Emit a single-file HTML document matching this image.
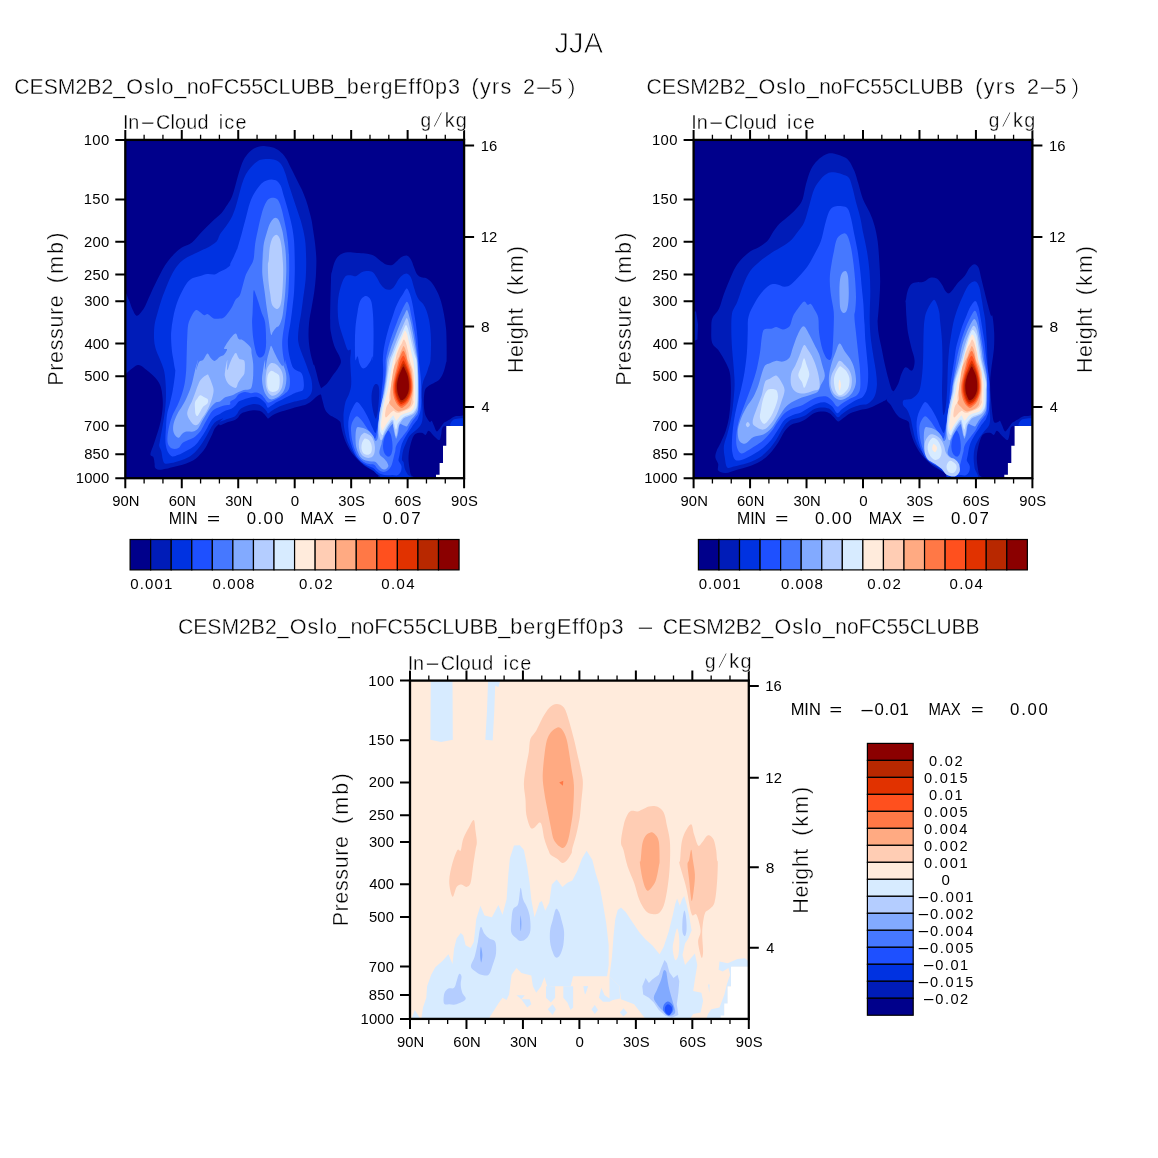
<!DOCTYPE html>
<html><head><meta charset="utf-8"><title>JJA</title>
<style>html,body{margin:0;padding:0;background:#fff}svg{display:block}</style></head>
<body>
<svg width="1158" height="1158" viewBox="0 0 1158 1158" font-family="'Liberation Sans', sans-serif" fill="#000">
<rect width="1158" height="1158" fill="#fff"/>
<text y="53.30" font-size="30.2" stroke="#fff" stroke-width="0.9"><tspan x="554.55" textLength="48.51" lengthAdjust="spacingAndGlyphs">JJA</tspan></text>
<text y="94.30" font-size="21.6" stroke="#fff" stroke-width="0.35"><tspan x="14.32" textLength="110.64" lengthAdjust="spacingAndGlyphs">CESM2B2_</tspan><tspan x="126.18 143.92 155.66 161.39 174.34">Oslo_</tspan><tspan x="186.87 198.77 210.68 223.76 239.25 251.16 263.06 278.55 290.46 305.95 320.25 334.54">noFC55CLUBB_</tspan><tspan x="346.71 359.56 372.41 380.45 393.30 408.55 415.39 422.23 435.08 447.94">bergEff0p3</tspan> <tspan x="471.46 479.90 491.94 500.38">(yrs</tspan> <tspan x="523.12" textLength="11.96" lengthAdjust="spacingAndGlyphs">2</tspan><tspan x="534.48" textLength="18.14" lengthAdjust="spacingAndGlyphs">-</tspan><tspan x="550.86" textLength="11.61" lengthAdjust="spacingAndGlyphs">5</tspan><tspan x="566.95" textLength="8.79" lengthAdjust="spacingAndGlyphs" stroke-width="0.8">)</tspan></text>
<text y="94.30" font-size="21.6" stroke="#fff" stroke-width="0.35"><tspan x="646.62" textLength="110.64" lengthAdjust="spacingAndGlyphs">CESM2B2_</tspan><tspan x="758.48 776.22 787.96 793.69 806.64">Oslo_</tspan><tspan x="819.21" textLength="144.19" lengthAdjust="spacingAndGlyphs">noFC55CLUBB</tspan> <tspan x="975.26 983.70 995.74 1004.18">(yrs</tspan> <tspan x="1026.92" textLength="11.96" lengthAdjust="spacingAndGlyphs">2</tspan><tspan x="1038.28" textLength="18.14" lengthAdjust="spacingAndGlyphs">-</tspan><tspan x="1054.66" textLength="11.61" lengthAdjust="spacingAndGlyphs">5</tspan><tspan x="1070.75" textLength="8.79" lengthAdjust="spacingAndGlyphs" stroke-width="0.8">)</tspan></text>
<text y="633.90" font-size="21.6" stroke="#fff" stroke-width="0.35"><tspan x="177.92" textLength="110.64" lengthAdjust="spacingAndGlyphs">CESM2B2_</tspan><tspan x="289.78 307.52 319.26 324.99 337.94">Oslo_</tspan><tspan x="350.47 362.37 374.28 387.36 402.85 414.76 426.66 442.15 454.06 469.55 483.85 498.14">noFC55CLUBB_</tspan><tspan x="510.31 523.16 536.01 544.05 556.90 572.15 578.99 585.83 598.68 611.54">bergEff0p3</tspan> <tspan x="635.82" textLength="19.37" lengthAdjust="spacingAndGlyphs">-</tspan> <tspan x="662.72" textLength="110.64" lengthAdjust="spacingAndGlyphs">CESM2B2_</tspan><tspan x="774.58 792.32 804.06 809.79 822.74">Oslo_</tspan><tspan x="835.31" textLength="144.19" lengthAdjust="spacingAndGlyphs">noFC55CLUBB</tspan></text>
<g transform="translate(125.3,139.9)">
<clipPath id="cp1"><rect x="0" y="0" width="338.8" height="338.3"/></clipPath>
<g clip-path="url(#cp1)" shape-rendering="geometricPrecision">
<rect x="0" y="0" width="338.8" height="338.3" fill="#00008B"/>
<path d="M-0.8,158.8C-0.1,146.5 2.1,158.1 3.4,159.8C4.6,161.6 5.7,166.5 7.0,169.2C8.3,171.8 9.7,175.4 11.1,175.9C12.6,176.4 14.3,173.9 15.8,172.3C17.3,170.6 18.6,168.6 19.9,166.1C21.3,163.5 22.5,160.2 24.1,156.7C25.6,153.3 27.5,149.0 29.3,145.3C31.0,141.7 32.7,138.3 34.4,135.0C36.2,131.7 37.7,128.6 39.6,125.6C41.5,122.7 43.6,119.9 45.8,117.4C48.1,114.8 51.0,111.9 53.1,110.1C55.2,108.3 56.3,107.9 58.5,106.6C60.8,105.3 63.7,105.0 66.7,102.5C69.7,100.0 73.3,95.2 76.6,91.8C79.9,88.4 83.1,85.1 86.4,82.0C89.7,78.8 93.9,75.6 96.3,73.0C98.7,70.4 99.3,68.9 100.9,66.4C102.6,64.0 104.7,61.1 106.1,58.1C107.5,55.2 108.2,52.3 109.2,48.8C110.2,45.4 111.3,41.0 112.3,37.4C113.4,33.8 114.2,30.3 115.4,27.0C116.6,23.8 117.8,20.5 119.6,17.7C121.3,15.0 123.5,12.3 125.8,10.5C128.0,8.6 130.6,7.5 133.0,6.8C135.5,6.1 137.7,6.1 140.3,6.3C142.9,6.5 146.0,6.8 148.6,7.9C151.2,8.9 153.8,10.7 155.8,12.5C157.9,14.3 159.3,16.0 161.0,18.8C162.7,21.5 164.5,25.7 166.2,29.1C167.9,32.6 169.7,36.0 171.4,39.5C173.1,42.9 175.0,46.4 176.6,49.8C178.1,53.3 179.5,56.7 180.7,60.2C181.9,63.7 182.9,67.1 183.8,70.6C184.8,74.0 185.7,77.5 186.4,80.9C187.1,84.4 187.4,87.8 188.0,91.3C188.5,94.7 189.1,98.2 189.5,101.7C190.0,105.1 190.3,108.9 190.6,112.0C190.8,115.2 191.1,116.5 191.1,120.5C191.1,124.5 190.9,130.8 190.6,136.0C190.2,141.2 189.7,146.4 189.0,151.6C188.3,156.7 187.3,161.9 186.4,167.1C185.5,172.3 184.3,177.5 183.8,182.6C183.3,187.8 183.1,193.3 183.3,198.2C183.5,203.0 184.1,207.3 184.9,211.7C185.6,216.0 187.3,221.8 188.0,224.1C188.7,226.4 188.5,223.9 189.0,225.3C189.5,226.7 190.4,229.9 191.1,232.5C191.8,235.1 192.4,238.2 193.1,240.8C193.9,243.4 194.9,246.4 195.7,248.1C196.6,249.8 198.2,250.2 198.3,251.2C198.5,252.2 197.5,253.7 196.8,254.3C196.1,254.9 195.1,254.4 194.2,254.8C193.2,255.2 192.3,255.9 191.1,256.9C189.9,257.8 188.5,259.3 186.9,260.5C185.4,261.7 183.6,263.2 181.7,264.1C179.8,265.1 177.9,265.5 175.5,266.2C173.1,266.9 170.0,267.5 167.2,268.3C164.5,269.1 161.7,270.0 158.9,270.9C156.2,271.7 152.9,272.5 150.7,273.5C148.4,274.4 146.8,275.7 145.5,276.6C144.2,277.4 143.6,278.6 142.9,278.6C142.2,278.7 142.1,278.0 141.3,277.1C140.6,276.2 139.4,274.5 138.2,273.5C137.0,272.4 135.8,271.4 134.1,270.9C132.4,270.4 130.1,270.2 127.9,270.4C125.6,270.5 122.7,271.3 120.6,271.9C118.5,272.5 116.8,272.9 115.4,274.0C114.0,275.0 113.5,277.0 112.3,278.1C111.1,279.3 110.1,279.9 108.2,280.7C106.3,281.5 103.2,282.0 100.9,282.8C98.7,283.6 95.9,285.1 94.7,285.4C93.5,285.6 94.4,283.8 93.5,284.3C92.6,284.9 90.5,286.8 89.4,288.5C88.2,290.2 87.8,292.5 86.8,294.7C85.7,297.0 84.3,299.7 83.1,302.0C82.0,304.2 81.2,306.3 80.0,308.2C78.8,310.1 77.4,311.6 75.9,313.4C74.3,315.1 72.6,317.1 70.7,318.5C68.8,320.0 66.7,321.1 64.5,322.2C62.2,323.2 59.8,324.0 57.2,324.8C54.6,325.5 51.7,326.1 48.9,326.8C46.2,327.5 43.2,328.4 40.7,328.9C38.1,329.4 35.2,330.1 33.4,329.9C31.6,329.8 30.5,328.9 29.8,327.9C29.1,326.8 29.5,325.5 29.3,323.7C29.0,322.0 28.9,319.1 28.2,317.5C27.5,316.0 25.1,316.5 25.1,314.4C25.1,312.3 27.2,308.2 28.2,305.1C29.3,302.0 30.3,299.0 31.3,295.7C32.4,292.5 33.6,288.8 34.4,285.4C35.3,281.9 36.0,278.5 36.5,275.0C37.0,271.6 37.5,267.9 37.5,264.7C37.6,261.4 37.4,258.3 37.0,255.3C36.7,252.4 36.3,249.5 35.5,247.0C34.7,244.6 33.8,242.8 32.4,240.8C31.0,238.8 29.1,236.9 27.2,235.1C25.3,233.3 22.9,231.5 21.0,229.9C19.1,228.4 17.3,226.6 15.8,225.8C14.2,225.0 13.2,224.8 11.6,225.3C10.1,225.8 8.2,227.6 6.5,228.9C4.7,230.2 2.5,232.3 1.3,233.1C0.1,233.8 -0.4,245.9 -0.8,233.6C-1.1,221.2 -1.5,171.1 -0.8,158.8Z" fill="#001CB8"/>
<path d="M38.6,230.1C37.6,226.4 35.8,222.5 34.4,218.9C33.1,215.3 31.2,212.0 30.3,208.5C29.3,205.1 28.9,202.2 28.7,198.2C28.6,194.2 28.7,189.0 29.3,184.7C29.9,180.4 31.2,176.6 32.4,172.3C33.6,168.0 35.0,163.3 36.5,158.8C38.1,154.3 40.0,149.5 41.7,145.3C43.4,141.2 45.0,137.4 46.9,133.9C48.8,130.5 50.8,127.2 53.1,124.6C55.3,122.0 57.8,120.1 60.3,118.4C62.9,116.7 65.9,115.6 68.6,114.2C71.4,112.9 74.5,111.2 76.9,110.1C79.3,109.0 80.7,108.8 83.1,107.4C85.5,106.0 89.4,103.8 91.3,101.7C93.3,99.5 93.1,97.0 94.7,94.4C96.3,91.8 99.0,88.9 100.9,86.1C102.8,83.3 104.5,80.9 106.1,77.8C107.7,74.7 109.0,71.1 110.2,67.5C111.5,63.8 112.3,59.9 113.4,56.1C114.4,52.3 115.3,48.3 116.5,44.7C117.7,41.0 118.9,37.4 120.6,34.3C122.3,31.2 124.8,28.3 126.8,26.0C128.9,23.8 131.1,21.9 133.0,20.8C134.9,19.7 136.0,19.5 138.2,19.3C140.5,19.0 144.1,18.9 146.5,19.3C148.9,19.6 151.0,20.2 152.7,21.3C154.5,22.5 155.7,24.0 156.9,26.0C158.1,28.0 158.9,30.3 160.0,33.3C161.0,36.2 161.9,39.8 163.1,43.6C164.3,47.4 165.9,51.9 167.2,56.1C168.6,60.2 170.0,64.3 171.4,68.5C172.8,72.6 174.3,76.8 175.5,80.9C176.7,85.1 177.9,89.6 178.6,93.4C179.4,97.2 179.8,100.3 180.2,103.7C180.5,107.2 180.6,110.4 180.7,114.1C180.8,117.7 181.0,121.1 180.9,125.6C180.8,130.2 180.7,136.0 180.2,141.2C179.7,146.4 178.8,151.6 178.1,156.7C177.4,161.9 176.8,167.1 176.0,172.3C175.3,177.5 174.0,183.0 173.5,187.8C172.9,192.7 172.4,197.0 172.9,201.3C173.5,205.6 175.3,209.9 176.6,213.7C177.9,217.5 179.7,221.4 180.7,224.1C181.7,226.8 181.9,227.6 182.8,230.0C183.6,232.5 185.2,235.9 185.9,238.8C186.6,241.6 186.9,244.6 186.9,247.0C186.9,249.5 186.8,251.4 185.9,253.3C185.0,255.2 183.3,257.3 181.7,258.4C180.2,259.6 178.6,259.5 176.6,260.0C174.5,260.5 171.9,260.9 169.3,261.6C166.7,262.2 163.8,263.2 161.0,264.1C158.3,265.1 155.1,266.1 152.7,267.3C150.3,268.4 148.2,269.8 146.5,270.9C144.9,271.9 143.8,273.4 142.9,273.5C142.0,273.6 142.1,272.3 141.3,271.4C140.6,270.4 139.6,268.9 138.2,267.8C136.8,266.6 134.8,265.3 133.0,264.7C131.3,264.1 130.1,263.8 127.9,264.1C125.6,264.5 121.8,265.8 119.6,266.7C117.3,267.7 115.7,268.6 114.4,269.8C113.1,271.0 112.8,272.8 111.8,274.0C110.8,275.2 109.8,276.2 108.2,277.1C106.5,278.0 104.2,278.4 102.0,279.2C99.7,279.9 95.4,281.8 94.7,281.8C94.0,281.7 98.2,278.7 97.7,278.6C97.1,278.6 93.2,280.1 91.4,281.2C89.7,282.4 88.7,283.5 87.3,285.4C85.9,287.3 84.5,290.2 83.1,292.6C81.8,295.1 80.4,297.6 79.0,299.9C77.6,302.1 76.4,304.0 74.9,306.1C73.3,308.2 71.6,310.5 69.7,312.3C67.8,314.1 65.9,315.6 63.5,317.0C61.0,318.4 58.1,319.6 55.2,320.6C52.2,321.7 48.4,322.7 45.8,323.2C43.2,323.7 41.0,324.3 39.6,323.7C38.2,323.1 38.2,321.7 37.5,319.6C36.9,317.5 36.6,313.5 36.0,311.3C35.4,309.0 34.2,307.7 33.9,306.1C33.7,304.6 34.0,304.6 34.4,302.0C34.9,299.4 35.8,294.5 36.5,290.6C37.2,286.6 38.0,282.1 38.6,278.1C39.2,274.2 39.8,270.7 40.1,266.7C40.5,262.8 40.7,258.6 40.7,254.3C40.7,250.0 40.5,244.9 40.1,240.8C39.8,236.8 39.5,233.8 38.6,230.1Z" fill="#0032E1"/>
<path d="M50.0,230.1C49.6,229.9 48.5,222.5 47.9,218.9C47.3,215.3 46.7,212.9 46.4,208.5C46.0,204.2 45.6,198.2 45.8,193.0C46.1,187.8 46.9,182.6 47.9,177.5C48.9,172.3 50.5,166.4 52.1,161.9C53.6,157.4 55.5,153.8 57.2,150.5C59.0,147.2 60.7,144.3 62.4,142.2C64.1,140.2 65.5,139.1 67.6,138.1C69.7,137.0 72.4,136.7 74.9,136.0C77.3,135.4 79.7,134.4 82.1,134.1C84.5,133.9 87.3,134.8 89.4,134.5C91.4,134.1 92.6,132.8 94.5,131.9C96.4,130.9 99.1,129.8 100.8,128.8C102.5,127.7 104.0,126.5 104.7,125.6C105.4,124.8 104.5,125.0 105.1,123.6C105.6,122.2 107.1,119.6 108.2,117.4C109.2,115.1 110.6,111.7 111.3,110.1C112.0,108.5 111.5,110.7 112.3,107.9C113.2,105.1 115.1,98.4 116.5,93.4C117.8,88.4 119.2,83.0 120.6,77.8C122.0,72.6 123.2,66.6 124.8,62.3C126.3,58.0 128.0,55.0 129.9,51.9C131.8,48.8 134.3,45.5 136.2,43.6C138.1,41.7 139.6,41.2 141.3,40.5C143.1,39.8 144.8,39.4 146.5,39.5C148.2,39.6 150.2,40.0 151.7,41.0C153.2,42.1 154.3,43.5 155.3,45.7C156.4,47.9 157.0,50.9 157.9,54.0C158.9,57.1 160.0,60.7 161.0,64.3C162.1,68.0 163.1,71.6 164.1,75.7C165.2,79.9 166.5,84.9 167.2,89.2C168.0,93.5 168.4,97.5 168.8,101.7C169.1,105.8 169.2,109.2 169.3,114.1C169.4,119.0 169.6,124.6 169.5,130.8C169.4,137.1 169.2,145.5 168.8,151.6C168.4,157.6 167.8,161.9 167.2,167.1C166.6,172.3 165.9,178.0 165.2,182.6C164.5,187.3 163.5,191.6 163.1,195.1C162.7,198.5 162.5,200.3 162.6,203.4C162.7,206.5 163.0,210.3 163.6,213.7C164.2,217.2 165.4,221.6 166.2,224.1C167.0,226.5 167.4,227.3 168.3,228.4C169.1,229.5 170.2,229.8 171.4,230.5C172.6,231.2 174.5,231.5 175.5,232.5C176.6,233.6 177.1,234.6 177.6,236.7C178.1,238.8 178.6,242.7 178.6,245.0C178.6,247.2 178.3,249.0 177.6,250.2C176.9,251.3 175.9,251.2 174.5,251.7C173.1,252.2 171.2,252.5 169.3,253.3C167.4,254.0 165.2,255.3 163.1,256.4C161.0,257.4 158.9,258.4 156.9,259.5C154.8,260.5 152.6,261.5 150.7,262.6C148.8,263.7 146.9,265.4 145.5,266.2C144.1,267.1 143.2,268.2 142.4,267.8C141.5,267.3 141.3,265.0 140.3,263.6C139.3,262.2 137.7,260.6 136.2,259.5C134.6,258.4 132.7,257.2 131.0,256.9C129.2,256.5 127.9,257.0 125.8,257.4C123.7,257.8 120.6,258.8 118.5,259.5C116.5,260.2 114.7,260.5 113.4,261.6C112.0,262.6 111.5,264.5 110.2,265.7C109.0,266.9 107.8,267.9 106.1,268.8C104.4,269.7 101.8,270.0 99.9,270.9C98.0,271.7 96.3,273.1 94.7,274.0C93.1,274.8 91.8,275.0 90.4,276.1C89.0,277.1 87.6,278.3 86.3,280.2C84.9,282.1 83.5,285.0 82.1,287.5C80.7,289.9 79.5,292.3 78.0,294.7C76.4,297.1 74.5,299.9 72.8,302.0C71.1,304.0 69.7,305.6 67.6,307.1C65.5,308.7 62.8,310.0 60.3,311.3C57.9,312.6 55.3,314.1 53.1,314.9C50.8,315.8 48.6,316.9 46.9,316.5C45.1,316.0 43.8,314.1 42.7,312.3C41.7,310.6 41.1,308.4 40.7,306.1C40.2,303.9 40.1,302.0 40.1,298.9C40.1,295.7 40.4,291.4 40.7,287.5C40.9,283.5 41.1,278.8 41.7,275.0C42.3,271.2 43.4,268.3 44.3,264.7C45.1,261.0 46.1,257.2 46.9,253.3C47.7,249.3 48.4,244.6 48.9,240.8C49.5,237.0 49.8,233.9 50.0,230.5C50.2,227.0 50.0,220.2 50.0,220.1C50.0,220.0 50.3,230.3 50.0,230.1Z" fill="#1E50FF"/>
<path d="M128.4,110.1C128.3,110.2 128.6,117.4 127.9,120.5C127.1,123.6 125.0,126.2 123.7,128.8C122.4,131.3 121.1,133.2 120.1,136.0C119.1,138.8 118.4,142.1 117.5,145.3C116.5,148.6 115.6,153.3 114.4,155.7C113.2,158.1 111.6,157.8 110.2,159.8C108.9,161.9 107.7,165.5 106.1,168.1C104.5,170.7 102.3,173.7 100.9,175.4C99.5,177.0 98.8,177.5 97.8,178.0C96.8,178.5 96.3,178.4 94.7,178.5C93.1,178.6 90.3,179.2 88.3,178.5C86.3,177.8 84.2,174.9 82.6,174.3C81.1,173.8 80.3,175.7 79.0,175.4C77.7,175.0 76.2,173.1 74.9,172.3C73.5,171.4 72.1,169.7 70.7,170.2C69.3,170.7 67.9,173.0 66.6,175.4C65.3,177.8 63.7,180.9 62.9,184.7C62.2,188.5 62.2,193.3 61.9,198.2C61.6,203.0 61.6,208.4 61.4,213.7C61.2,219.0 61.2,225.1 60.9,230.1C60.5,235.1 60.1,239.7 59.3,243.9C58.5,248.1 57.4,251.7 56.2,255.3C55.0,259.0 53.6,262.2 52.1,265.7C50.5,269.2 48.3,272.6 46.9,276.1C45.5,279.5 44.5,283.0 43.8,286.4C43.0,289.9 42.4,293.8 42.2,296.8C42.0,299.7 42.0,302.1 42.7,304.0C43.5,306.0 45.1,308.0 46.9,308.7C48.6,309.4 51.4,309.1 53.1,308.2C54.8,307.2 55.5,304.4 57.2,303.0C59.0,301.6 61.4,300.9 63.5,299.9C65.5,298.9 67.8,298.2 69.7,296.8C71.6,295.4 73.3,293.7 74.9,291.6C76.4,289.5 77.6,286.8 79.0,284.3C80.4,281.9 81.8,279.3 83.1,277.1C84.5,274.8 85.7,272.4 87.3,270.9C88.8,269.3 90.6,268.6 92.5,267.8C94.4,266.9 96.7,266.2 98.7,265.7C100.7,265.2 103.6,265.4 104.7,264.7C105.8,264.0 104.1,262.6 105.1,261.6C106.0,260.5 108.9,259.7 110.2,258.4C111.6,257.2 111.8,255.3 113.4,254.3C114.9,253.3 117.5,252.4 119.6,252.2C121.6,252.1 123.9,253.2 125.8,253.3C127.7,253.3 129.2,252.5 131.0,252.7C132.7,253.0 134.8,253.9 136.2,254.8C137.5,255.8 138.2,257.1 139.3,258.4C140.3,259.7 141.2,262.1 142.4,262.6C143.6,263.1 144.8,262.2 146.5,261.6C148.2,260.9 150.7,259.7 152.7,258.4C154.8,257.2 157.2,255.7 158.9,254.3C160.7,252.9 162.1,251.9 163.1,250.2C164.0,248.4 164.5,246.4 164.6,243.9C164.8,241.5 164.6,238.2 164.1,235.6C163.7,233.1 162.7,231.0 162.1,228.4C161.4,225.8 160.3,220.8 160.0,220.1C159.6,219.4 160.3,224.8 160.0,224.1C159.6,223.4 158.4,218.9 157.9,215.8C157.4,212.7 157.0,208.7 156.9,205.4C156.8,202.2 157.0,199.9 157.4,196.1C157.8,192.3 158.8,187.5 159.5,182.6C160.2,177.8 160.9,172.3 161.5,167.1C162.1,161.9 162.7,157.6 163.1,151.6C163.5,145.5 163.8,137.7 163.9,130.8C164.0,123.9 163.7,112.9 163.6,110.1C163.6,107.3 163.8,115.5 163.6,114.1C163.4,112.7 163.0,105.6 162.6,101.7C162.1,97.7 161.7,94.2 161.0,90.3C160.3,86.3 159.3,81.6 158.4,77.8C157.6,74.0 156.8,70.4 155.8,67.5C154.9,64.5 153.9,61.8 152.7,60.2C151.5,58.6 150.1,58.1 148.6,57.9C147.0,57.8 145.0,57.9 143.4,59.2C141.9,60.4 140.5,62.8 139.3,65.4C138.1,68.0 137.2,70.9 136.2,74.7C135.1,78.5 134.1,83.3 133.0,88.2C132.0,93.0 130.7,98.4 129.9,103.7C129.2,109.0 128.6,119.0 128.4,120.1C128.1,121.2 128.5,110.0 128.4,110.1Z" fill="#4678FF"/>
<path d="M128.4,150.5C128.1,151.4 128.0,153.1 127.9,156.7C127.7,160.4 127.5,168.0 127.3,172.3C127.2,176.6 126.7,178.3 126.8,182.6C126.9,187.0 127.3,193.3 127.9,198.2C128.5,203.0 129.6,208.5 130.5,211.7C131.3,214.8 132.1,215.9 133.0,216.8C134.0,217.8 135.1,217.9 136.2,217.4C137.2,216.8 138.5,216.1 139.3,213.7C140.0,211.4 140.7,208.5 140.8,203.4C140.9,198.2 140.6,187.8 139.8,182.6C139.0,177.5 137.3,175.7 136.2,172.3C135.0,168.8 134.2,165.4 133.0,161.9C131.9,158.5 130.2,153.5 129.4,151.6C128.6,149.7 128.6,149.7 128.4,150.5Z" fill="#1E50FF"/>
<path d="M137.7,120.1C137.8,119.4 137.6,110.3 138.2,105.8C138.8,101.3 140.3,97.0 141.3,93.4C142.4,89.7 143.2,86.5 144.4,84.0C145.6,81.5 147.4,79.3 148.6,78.3C149.8,77.4 150.7,77.7 151.7,78.3C152.6,78.9 153.4,80.0 154.3,82.0C155.1,84.0 156.1,87.0 156.9,90.3C157.7,93.5 158.3,97.7 158.9,101.7C159.6,105.6 160.2,109.2 160.5,114.1C160.8,119.0 161.1,124.6 161.0,130.8C160.9,137.1 160.4,145.5 160.0,151.6C159.6,157.6 158.9,162.8 158.4,167.1C157.9,171.4 157.7,174.3 156.9,177.5C156.1,180.6 154.8,184.0 153.8,185.7C152.7,187.5 151.7,186.8 150.7,187.8C149.6,188.9 148.4,190.8 147.5,192.0C146.7,193.1 146.4,196.5 145.7,194.6C145.0,192.7 144.1,185.1 143.4,180.6C142.7,176.0 142.0,171.9 141.3,167.1C140.6,162.3 140.0,156.7 139.3,151.6C138.6,146.4 137.6,140.3 137.2,136.0C136.8,131.7 136.9,130.0 137.0,125.6C137.1,121.3 137.6,111.0 137.7,110.1C137.8,109.2 137.6,120.8 137.7,120.1Z" fill="#82AAFF"/>
<path d="M70.7,230.1C70.9,230.4 72.6,223.7 73.8,222.0C75.0,220.3 76.6,221.3 78.0,219.9C79.3,218.6 80.9,214.1 82.1,213.7C83.3,213.4 84.0,216.7 85.2,217.9C86.4,219.1 87.8,221.2 89.4,221.0C90.9,220.8 93.0,217.9 94.5,216.8C96.1,215.8 97.5,216.0 98.7,214.8C99.9,213.6 101.8,210.6 101.8,209.6C101.8,208.5 98.6,209.9 98.8,208.5C99.0,207.2 101.6,203.4 103.0,201.3C104.4,199.2 105.8,197.4 107.1,196.1C108.4,194.9 109.7,193.3 110.8,193.8C111.8,194.3 112.2,198.1 113.4,199.2C114.5,200.3 115.5,198.9 117.5,200.3C119.5,201.6 123.8,205.3 125.3,207.5C126.7,209.8 125.9,211.0 126.3,213.7C126.7,216.5 127.6,220.4 127.9,224.1C128.1,227.7 128.0,232.2 127.9,235.6C127.7,239.1 127.3,242.7 126.8,245.0C126.3,247.2 126.1,248.3 124.8,249.1C123.4,250.0 120.4,249.6 118.5,250.2C116.6,250.7 115.3,251.4 113.4,252.2C111.5,253.1 109.4,254.5 107.1,255.3C104.9,256.2 102.0,256.4 99.9,257.4C97.8,258.4 96.3,260.7 94.7,261.6C93.1,262.4 92.0,261.6 90.4,262.6C88.8,263.6 86.8,265.9 85.2,267.8C83.7,269.7 82.5,271.7 81.1,274.0C79.7,276.2 78.3,278.8 76.9,281.2C75.5,283.7 74.3,286.8 72.8,288.5C71.2,290.2 69.5,291.1 67.6,291.6C65.7,292.1 63.1,291.3 61.4,291.6C59.7,291.9 58.5,292.6 57.2,293.7C55.9,294.7 54.8,297.5 53.6,297.8C52.4,298.2 50.9,297.0 50.0,295.7C49.0,294.5 48.2,292.6 47.9,290.6C47.7,288.5 47.7,286.1 48.4,283.3C49.1,280.5 50.6,276.9 52.1,274.0C53.5,271.0 55.5,268.8 57.2,265.7C59.0,262.6 60.9,259.0 62.4,255.3C64.0,251.7 65.4,248.1 66.6,243.9C67.8,239.8 68.6,234.4 69.7,230.5C70.7,226.5 72.6,220.2 72.8,220.1C73.0,220.0 70.5,229.8 70.7,230.1Z" fill="#82AAFF"/>
<path d="M139.8,230.1C140.1,229.9 141.1,222.3 141.9,218.9C142.6,215.5 143.8,211.7 144.4,209.6C145.1,207.4 145.3,205.6 146.0,206.0C146.7,206.3 147.5,209.3 148.6,211.7C149.7,214.0 151.3,217.5 152.7,219.9C154.1,222.4 156.0,225.3 156.9,226.2C157.7,227.1 157.3,224.2 157.9,225.3C158.5,226.3 160.0,229.9 160.5,232.5C161.0,235.1 161.3,237.9 161.0,240.8C160.8,243.8 160.0,247.7 158.9,250.2C157.9,252.6 156.5,253.9 154.8,255.3C153.1,256.8 150.3,258.4 148.6,259.0C146.9,259.6 145.8,259.7 144.4,259.0C143.1,258.2 141.4,256.3 140.3,254.3C139.2,252.3 138.3,249.6 137.7,247.0C137.1,244.5 136.7,241.5 136.7,238.8C136.7,236.0 137.2,233.6 137.7,230.5C138.2,227.4 139.4,220.2 139.8,220.1C140.1,220.0 139.4,230.3 139.8,230.1Z" fill="#82AAFF"/>
<path d="M143.4,120.1C143.7,117.1 143.9,111.3 144.4,107.9C145.0,104.5 145.6,101.7 146.5,99.6C147.4,97.5 148.7,96.1 149.6,95.4C150.6,94.7 151.3,94.7 152.2,95.4C153.1,96.1 154.1,97.5 154.8,99.6C155.5,101.7 155.9,104.5 156.4,107.9C156.8,111.3 157.1,116.3 157.4,120.1C157.7,123.9 157.9,126.4 157.9,130.8C157.9,135.2 157.7,141.7 157.4,146.4C157.1,151.0 156.8,155.5 156.4,158.8C155.9,162.1 155.5,164.4 154.8,166.1C154.1,167.8 153.1,168.6 152.2,169.0C151.3,169.3 150.6,169.0 149.6,168.1C148.7,167.3 147.3,166.2 146.5,164.0C145.7,161.7 145.5,158.5 145.0,154.7C144.4,150.9 143.6,146.0 143.2,141.2C142.8,136.4 142.5,129.2 142.6,125.6C142.6,122.1 143.1,123.1 143.4,120.1Z" fill="#B4CDFF"/>
<path d="M82.1,234.6C80.8,235.0 77.4,237.5 75.9,239.3C74.3,241.0 73.8,242.6 72.8,245.0C71.7,247.3 70.7,250.5 69.7,253.3C68.6,256.0 67.6,259.1 66.6,261.6C65.5,264.0 64.2,265.7 63.5,267.8C62.7,269.8 61.7,271.9 61.9,274.0C62.1,276.1 63.4,278.4 64.5,280.2C65.6,282.0 67.3,284.2 68.6,284.9C70.0,285.6 71.4,285.5 72.8,284.3C74.2,283.2 75.5,280.2 76.9,278.1C78.3,276.1 79.9,274.0 81.1,271.9C82.3,269.8 83.2,267.9 84.2,265.7C85.1,263.5 86.1,261.0 86.8,258.4C87.5,255.9 88.4,252.7 88.3,250.2C88.2,247.6 87.0,245.1 86.3,242.9C85.5,240.7 84.4,238.1 83.7,236.7C83.0,235.3 83.4,234.2 82.1,234.6Z" fill="#B4CDFF"/>
<path d="M102.0,230.1C102.5,230.4 104.0,224.4 105.1,222.0C106.1,219.6 107.2,217.3 108.2,215.8C109.1,214.3 109.8,212.7 110.8,213.2C111.7,213.7 112.5,217.6 113.9,218.9C115.3,220.2 118.1,219.1 119.1,221.0C120.0,222.8 119.5,229.4 119.6,230.1C119.7,230.8 119.7,224.7 119.6,225.3C119.5,225.9 119.7,231.3 119.1,233.6C118.4,235.8 116.5,237.2 115.4,238.8C114.4,240.3 113.7,241.3 112.8,242.9C112.0,244.5 111.9,247.9 110.2,248.1C108.6,248.3 104.8,245.8 103.0,243.9C101.2,242.0 100.2,238.9 99.7,236.7C99.2,234.4 99.5,233.2 99.9,230.5C100.3,227.7 101.6,220.2 102.0,220.1C102.3,220.0 101.4,229.8 102.0,230.1Z" fill="#B4CDFF"/>
<path d="M141.3,230.5C140.9,232.5 140.4,236.0 140.3,238.8C140.2,241.5 140.3,244.6 140.8,247.0C141.3,249.5 142.3,251.8 143.4,253.3C144.5,254.7 146.0,255.9 147.5,255.9C149.1,255.9 151.3,254.6 152.7,253.3C154.2,252.0 155.5,250.3 156.4,248.1C157.2,245.8 157.8,242.4 157.9,239.8C158.0,237.2 157.6,234.6 156.9,232.5C156.2,230.5 155.0,228.8 153.8,227.4C152.6,225.9 150.9,224.4 149.6,223.7C148.3,223.0 147.1,222.8 146.0,223.2C144.9,223.6 143.7,225.1 142.9,226.3C142.1,227.5 141.8,228.4 141.3,230.5Z" fill="#B4CDFF"/>
<path d="M74.9,255.3C73.6,255.6 72.6,257.8 71.7,259.0C70.9,260.2 70.0,260.9 69.7,262.6C69.3,264.2 69.6,266.9 69.7,268.8C69.8,270.7 69.8,272.8 70.2,274.0C70.6,275.2 71.5,276.4 72.3,276.1C73.0,275.7 73.9,273.5 74.9,271.9C75.8,270.4 76.8,268.1 78.0,266.7C79.2,265.4 81.3,264.8 82.1,263.6C82.9,262.4 83.1,260.5 82.6,259.5C82.1,258.4 80.3,258.1 79.0,257.4C77.7,256.7 76.1,255.1 74.9,255.3Z" fill="#D7EBFF"/>
<path d="M145.5,231.0C144.3,231.5 143.0,233.5 142.4,235.6C141.8,237.8 141.7,241.5 141.9,243.9C142.0,246.4 142.5,248.8 143.4,250.2C144.4,251.5 146.0,252.2 147.5,252.2C149.1,252.2 151.6,251.5 152.7,250.2C153.9,248.8 154.1,246.4 154.3,243.9C154.5,241.5 154.5,237.5 153.8,235.6C153.0,233.7 151.0,233.3 149.6,232.5C148.2,231.8 146.7,230.5 145.5,231.0Z" fill="#D7EBFF"/>
<path d="M205.7,139.5C206.0,131.3 206.1,134.3 206.8,131.2C207.5,128.1 208.5,123.6 209.9,120.8C211.3,118.1 213.0,116.0 215.1,114.6C217.1,113.2 219.6,112.6 222.3,112.3C225.1,112.1 228.7,112.8 231.6,113.1C234.6,113.3 237.2,113.1 239.9,113.6C242.7,114.0 245.8,114.5 248.2,115.6C250.6,116.8 252.4,118.8 254.4,120.3C256.5,121.8 258.6,123.7 260.7,124.5C262.7,125.2 265.0,125.6 266.9,125.0C268.8,124.4 270.5,122.1 272.1,120.8C273.6,119.5 274.6,118.1 276.2,117.2C277.8,116.3 279.8,115.3 281.4,115.6C282.9,116.0 284.3,117.4 285.5,119.3C286.7,121.2 287.6,124.5 288.6,127.0C289.7,129.5 290.5,132.6 291.7,134.3C293.0,136.0 294.3,136.7 295.9,137.4C297.4,138.1 299.3,137.6 301.1,138.4C302.8,139.3 304.5,140.5 306.3,142.6C308.0,144.7 309.9,147.8 311.4,150.9C313.0,154.0 314.4,157.3 315.6,161.2C316.8,165.2 317.8,170.0 318.7,174.7C319.6,179.4 320.3,184.4 320.8,189.2C321.2,194.1 321.2,198.6 321.3,203.7C321.4,208.9 321.4,217.0 321.3,220.1C321.2,223.2 321.2,220.7 320.8,222.5C320.3,224.3 319.7,228.1 318.7,230.8C317.7,233.6 316.3,237.0 314.5,239.1C312.8,241.2 310.1,242.2 308.3,243.3C306.6,244.3 305.5,244.5 304.2,245.3C302.9,246.2 301.4,247.1 300.6,248.4C299.7,249.8 299.3,251.4 299.0,253.6C298.7,255.9 298.5,259.2 298.5,261.9C298.5,264.7 298.7,267.8 299.0,270.2C299.3,272.6 299.6,274.4 300.6,276.4C301.5,278.4 303.4,281.3 304.4,282.1C305.4,282.8 305.8,280.4 306.5,281.0C307.2,281.6 307.8,284.0 308.6,285.7C309.4,287.4 310.2,290.9 311.2,291.4C312.1,291.9 313.3,289.8 314.3,288.8C315.2,287.8 316.1,286.2 316.9,285.2C317.7,284.1 318.3,283.2 318.9,282.6C319.6,282.0 320.0,282.2 321.0,281.6C322.1,280.9 323.8,279.8 325.2,279.0C326.5,278.1 327.9,277.0 329.3,276.6C330.7,276.1 331.6,276.2 333.5,276.2C335.4,276.1 339.5,274.7 340.7,276.4C341.9,278.0 344.0,284.6 340.7,286.2C337.4,287.9 325.0,285.8 321.0,286.2C317.0,286.6 317.7,287.3 316.9,288.8C316.0,290.3 316.4,293.1 315.8,295.0C315.3,296.9 315.0,300.0 313.8,300.2C312.6,300.4 310.3,297.6 308.6,296.1C306.9,294.5 304.8,291.0 303.4,290.9C302.0,290.7 301.5,294.7 300.3,295.0C299.1,295.4 298.1,292.9 296.2,292.9C294.3,292.9 290.8,292.8 288.9,295.0C287.0,297.3 285.7,302.6 284.8,306.4C283.8,310.2 283.3,314.2 283.2,317.8C283.1,321.4 283.8,325.2 284.2,328.2C284.7,331.1 284.8,333.5 285.8,335.4C286.7,337.3 294.8,339.1 289.9,339.6C285.1,340.0 263.0,339.0 256.8,338.2C250.6,337.3 254.1,335.5 252.7,334.4C251.3,333.2 250.0,332.2 248.6,331.3C247.1,330.3 245.4,329.5 243.7,328.5C242.0,327.5 240.0,326.4 238.2,325.0C236.3,323.7 234.4,321.9 232.7,320.2C230.9,318.5 229.3,316.6 227.8,314.7C226.3,312.7 224.9,310.6 223.7,308.5C222.4,306.3 221.2,303.9 220.2,301.6C219.2,299.2 218.5,296.9 217.8,294.6C217.1,292.3 216.6,289.9 216.1,287.7C215.6,285.6 215.9,283.3 214.7,281.6C213.5,279.9 210.5,278.5 208.8,277.5C207.2,276.4 206.2,276.6 204.7,275.4C203.2,274.1 201.2,272.3 200.0,270.0C198.8,267.8 198.2,264.3 197.5,261.8C196.8,259.4 196.3,257.3 195.9,255.3C195.5,253.2 194.1,251.4 195.1,249.5C196.0,247.6 199.6,246.1 201.6,243.8C203.7,241.5 205.6,238.0 207.4,235.6C209.1,233.1 210.9,231.2 212.3,229.0C213.6,226.8 215.3,224.6 215.6,222.4C215.8,220.3 215.0,218.6 213.9,215.9C212.8,213.2 210.4,209.9 209.0,206.0C207.6,202.2 206.4,197.2 205.7,192.9C205.0,188.6 204.9,189.0 204.9,180.1C204.9,171.2 205.4,147.6 205.7,139.5Z" fill="#001CB8"/>
<path d="M212.5,172.6C212.3,168.1 212.4,162.8 213.0,158.1C213.6,153.5 214.9,148.3 216.1,144.7C217.3,141.0 218.7,137.9 220.2,136.4C221.8,134.8 223.7,135.3 225.4,135.3C227.2,135.3 228.9,136.8 230.6,136.4C232.3,135.9 234.1,133.6 235.8,132.7C237.5,131.9 239.1,131.3 241.0,131.2C242.9,131.1 245.5,131.2 247.2,132.2C248.9,133.3 250.0,135.3 251.3,137.4C252.7,139.5 254.1,142.8 255.5,144.7C256.9,146.6 258.1,147.9 259.6,148.8C261.2,149.7 263.2,150.2 264.8,149.8C266.4,149.5 267.6,148.5 268.9,146.7C270.3,145.0 271.7,141.4 273.1,139.5C274.5,137.6 275.8,136.3 277.2,135.3C278.7,134.4 280.5,133.4 281.9,133.8C283.3,134.1 284.5,135.4 285.5,137.4C286.6,139.4 287.3,142.9 288.1,145.7C289.0,148.5 289.8,151.6 290.7,154.0C291.7,156.4 292.6,158.5 293.8,160.2C295.0,161.9 296.8,162.6 298.0,164.3C299.2,166.1 300.1,168.0 301.1,170.6C302.0,173.2 303.0,176.4 303.7,179.9C304.4,183.3 304.9,187.3 305.2,191.3C305.6,195.3 305.7,198.9 305.7,203.7C305.7,208.5 305.6,216.1 305.2,220.1C304.8,224.1 303.8,225.4 303.1,227.7C302.5,230.0 301.9,231.7 301.1,233.9C300.2,236.2 298.7,238.6 298.0,241.2C297.2,243.8 296.7,246.9 296.4,249.5C296.1,252.1 296.1,255.0 296.1,256.7C296.1,258.5 296.5,258.2 296.7,260.1C296.9,262.0 297.1,265.3 297.2,267.9C297.3,270.5 297.5,273.3 297.4,275.6C297.4,278.0 297.1,280.2 296.7,281.9C296.3,283.5 295.9,284.3 295.1,285.5C294.3,286.7 293.1,288.0 292.0,289.1C290.9,290.2 289.6,291.2 288.4,292.2C287.2,293.3 285.8,294.1 284.8,295.3C283.7,296.5 282.9,297.9 282.2,299.5C281.4,301.0 280.8,302.9 280.1,304.7C279.4,306.4 278.5,308.1 278.0,309.8C277.5,311.6 277.2,313.3 277.0,315.0C276.8,316.7 276.5,318.9 276.7,320.1C276.9,321.3 277.8,320.8 278.3,322.3C278.7,323.8 278.9,327.1 279.6,329.2C280.3,331.3 281.6,333.2 282.4,334.7C283.2,336.2 288.6,337.6 284.5,338.2C280.3,338.7 262.5,338.5 257.5,338.2C252.6,337.8 255.8,336.8 254.8,336.1C253.7,335.4 252.5,334.9 251.3,334.0C250.2,333.1 249.1,331.5 247.9,330.6C246.6,329.6 245.3,329.2 243.7,328.1C242.1,327.1 240.0,325.9 238.2,324.3C236.3,322.8 234.4,320.8 232.7,318.8C230.9,316.9 229.3,314.9 227.8,312.6C226.3,310.3 224.8,307.5 223.7,305.0C222.5,302.5 221.7,300.3 220.9,297.4C220.1,294.5 219.3,291.1 218.8,287.7C218.4,284.4 218.2,280.3 218.2,277.4C218.1,274.4 218.3,272.8 218.7,270.2C219.0,267.6 219.4,264.7 220.2,261.9C221.1,259.2 222.9,256.6 223.9,253.6C224.8,250.7 225.7,248.1 225.9,244.3C226.2,240.5 225.6,234.8 225.4,230.8C225.3,226.9 224.9,223.9 224.9,220.5C224.9,217.0 225.9,211.9 225.4,210.1C225.0,208.3 223.5,211.9 222.3,209.9C221.1,208.0 219.6,202.7 218.2,198.5C216.8,194.4 215.0,189.4 214.0,185.1C213.1,180.8 212.6,177.1 212.5,172.6Z" fill="#0032E1"/>
<path d="M249.8,244.3C248.8,245.0 247.8,247.2 247.2,249.5C246.6,251.7 246.2,254.7 246.2,257.8C246.2,260.9 246.7,265.0 247.2,268.1C247.7,271.2 248.7,274.7 249.3,276.4C249.9,278.1 250.3,279.2 250.8,278.5C251.3,277.8 251.9,275.0 252.4,272.3C252.8,269.5 253.1,265.4 253.4,261.9C253.7,258.5 254.0,254.3 253.9,251.6C253.8,248.8 253.6,246.5 252.9,245.3C252.2,244.1 250.7,243.6 249.8,244.3Z" fill="#001CB8"/>
<path d="M230.1,220.1C229.7,218.0 229.6,209.0 229.6,203.7C229.6,198.4 229.7,193.4 230.1,188.2C230.5,183.0 231.4,177.1 232.2,172.6C232.9,168.1 233.6,163.9 234.8,161.2C235.9,158.6 237.5,157.3 238.9,156.6C240.3,155.9 241.8,156.1 243.0,157.1C244.3,158.0 245.4,159.3 246.2,162.3C246.9,165.2 247.4,170.4 247.7,174.7C248.1,179.0 248.1,183.3 248.2,188.2C248.3,193.0 248.3,198.4 248.2,203.7C248.1,209.0 247.9,218.0 247.7,220.1C247.5,222.2 247.5,216.3 247.2,216.3C246.8,216.4 246.3,219.1 245.6,220.5C244.9,221.8 244.0,223.4 243.0,224.6C242.1,225.9 241.0,227.3 239.9,227.9C238.9,228.5 237.8,229.0 236.8,228.2C235.9,227.5 235.0,225.6 234.2,223.6C233.5,221.6 232.9,216.9 232.2,216.3C231.5,215.7 230.5,222.2 230.1,220.1Z" fill="#1E50FF"/>
<path d="M281.9,148.8C282.6,149.3 283.5,151.2 284.2,153.1C284.9,155.0 285.7,157.6 286.3,160.1C286.9,162.6 287.4,165.3 287.9,167.9C288.3,170.5 288.7,173.1 289.2,175.6C289.6,178.2 290.1,180.8 290.5,183.4C290.8,186.0 291.2,188.6 291.5,191.2C291.8,193.8 292.0,196.4 292.3,199.0C292.5,201.6 292.6,204.1 292.8,206.7C293.0,209.3 293.2,212.3 293.3,214.5C293.4,216.7 293.2,217.5 293.5,220.1C293.7,222.7 294.3,226.6 294.7,230.1C295.1,233.6 295.5,237.6 295.7,241.1C295.9,244.6 295.9,247.9 296.0,251.1C296.1,254.3 296.1,256.9 296.0,260.1C295.9,263.3 295.9,267.1 295.3,270.1C294.8,273.1 293.5,276.4 292.7,278.3C291.9,280.2 291.4,280.4 290.7,281.4C290.0,282.4 289.3,283.3 288.6,284.2C287.9,285.1 287.3,286.0 286.6,287.0C285.9,288.0 285.2,289.1 284.5,290.1C283.8,291.1 283.1,292.1 282.4,293.2C281.7,294.3 281.0,295.5 280.3,296.6C279.6,297.8 278.9,298.9 278.3,300.1C277.7,301.4 277.0,302.6 276.5,304.1C276.0,305.6 275.6,307.3 275.2,309.1C274.8,310.9 274.5,313.3 274.2,315.1C273.9,316.9 273.2,318.9 273.2,320.1C273.2,321.3 273.6,321.2 274.1,322.3C274.6,323.3 276.0,324.8 276.2,326.4C276.4,328.0 276.2,330.5 275.5,331.9C274.8,333.4 273.4,334.9 272.0,335.4C270.7,335.9 268.9,335.1 267.2,335.1C265.5,335.1 263.5,335.5 261.7,335.4C259.8,335.3 257.8,334.9 256.2,334.4C254.5,333.8 253.3,332.9 252.0,331.9C250.7,331.0 249.9,329.4 248.6,328.5C247.2,327.6 245.4,327.2 243.7,326.4C242.0,325.6 239.9,324.8 238.2,323.7C236.5,322.5 234.8,321.1 233.4,319.5C231.9,317.9 230.6,316.1 229.6,314.0C228.5,311.9 227.6,309.4 226.8,307.1C226.0,304.8 225.3,302.8 224.7,300.2C224.1,297.5 223.6,294.2 223.3,291.2C223.0,288.2 222.8,285.1 223.0,282.2C223.2,279.3 223.9,276.5 224.7,273.9C225.5,271.4 226.7,269.0 227.8,267.0C229.0,265.1 230.3,262.3 231.6,262.2C232.9,262.0 234.4,264.4 235.8,266.0C237.2,267.7 238.5,269.8 239.9,272.3C241.3,274.7 242.9,278.0 244.1,280.5C245.3,283.1 246.1,285.8 247.2,287.8C248.3,289.8 249.6,294.3 250.6,292.6C251.6,290.9 252.7,281.2 253.3,277.5C253.9,273.8 254.2,272.7 254.5,270.1C254.8,267.5 255.0,265.0 255.3,261.9C255.6,258.8 256.0,255.1 256.3,251.6C256.6,248.1 257.1,244.7 257.4,241.1C257.7,237.5 257.9,233.6 257.9,230.1C257.9,226.6 257.5,223.1 257.5,220.1C257.6,217.1 257.8,214.6 258.1,211.9C258.4,209.3 258.8,206.9 259.4,204.1C259.9,201.4 260.7,198.4 261.4,195.3C262.2,192.3 263.1,189.0 264.0,186.0C265.0,183.0 266.1,180.2 267.1,177.2C268.2,174.2 269.1,170.7 270.2,167.9C271.4,165.0 272.6,162.4 273.9,160.1C275.1,157.8 276.7,155.8 277.7,154.1C278.7,152.4 279.2,151.0 279.9,150.1C280.6,149.2 281.2,148.3 281.9,148.8Z" fill="#1E50FF"/>
<path d="M281.6,161.9C282.4,161.9 283.2,163.9 283.7,165.3C284.3,166.7 284.6,168.5 285.0,170.5C285.4,172.4 285.8,174.8 286.3,177.2C286.8,179.6 287.4,182.5 287.9,185.0C288.3,187.5 288.7,189.6 289.2,192.2C289.6,194.8 290.1,197.8 290.5,200.5C290.8,203.3 291.2,206.2 291.5,208.8C291.8,211.4 292.2,214.2 292.4,216.1C292.6,217.9 292.6,216.9 292.8,220.1C293.0,223.3 293.2,229.9 293.4,235.1C293.6,240.3 293.6,246.9 293.7,251.1C293.8,255.3 293.8,257.3 293.7,260.1C293.6,262.9 293.5,265.9 293.3,268.1C293.1,270.3 293.1,272.1 292.7,273.5C292.3,274.9 291.4,275.6 290.7,276.6C290.0,277.6 289.3,278.5 288.6,279.4C287.9,280.3 287.2,281.1 286.6,282.1C285.9,283.2 285.1,284.4 284.5,285.6C283.8,286.7 283.3,288.0 282.8,289.0C282.2,290.1 281.5,291.1 281.0,291.8C280.6,292.5 281.6,291.0 280.0,293.2C278.4,295.4 273.0,302.0 271.3,305.0C269.7,308.0 270.4,309.3 270.0,311.2C269.5,313.2 269.0,314.9 268.6,316.7C268.1,318.6 267.7,320.7 267.2,322.3C266.7,323.9 266.5,325.2 265.8,326.4C265.1,327.7 264.1,329.0 263.1,329.9C262.0,330.8 260.9,331.7 259.6,331.9C258.3,332.2 256.7,331.8 255.5,331.3C254.2,330.7 253.0,329.5 252.0,328.5C251.0,327.5 250.4,325.7 249.2,325.0C248.1,324.3 246.6,324.7 245.1,324.3C243.6,324.0 241.9,323.8 240.3,323.0C238.6,322.2 236.9,321.0 235.4,319.5C233.9,318.0 232.4,316.1 231.3,314.0C230.1,311.9 229.3,309.4 228.5,307.1C227.8,304.8 227.3,302.7 226.8,300.2C226.3,297.6 225.9,294.4 225.8,291.9C225.6,289.3 225.6,287.0 226.1,285.0C226.6,282.9 227.6,280.9 228.5,279.4C229.4,278.0 230.5,276.3 231.6,276.3C232.8,276.3 234.1,278.0 235.4,279.4C236.7,280.9 238.2,283.0 239.6,285.0C241.0,286.9 242.3,289.3 243.7,291.2C245.1,293.0 246.7,295.0 247.9,296.0C249.0,297.1 249.6,300.6 250.6,297.4C251.7,294.3 253.3,283.0 254.3,277.1C255.3,271.2 255.8,266.1 256.4,261.9C257.0,257.6 257.4,255.1 257.9,251.6C258.4,248.1 259.0,244.7 259.4,241.1C259.8,237.5 260.2,233.6 260.4,230.1C260.6,226.6 260.1,223.1 260.4,220.1C260.7,217.1 261.4,214.5 262.0,211.9C262.5,209.3 263.1,207.1 263.8,204.7C264.5,202.2 265.3,199.8 266.1,197.4C266.9,195.0 267.8,192.5 268.7,190.2C269.6,187.8 270.4,185.7 271.3,183.4C272.1,181.2 273.0,178.8 273.9,176.7C274.7,174.5 275.6,172.4 276.5,170.5C277.3,168.6 278.2,166.7 279.1,165.3C279.9,163.9 280.9,161.9 281.6,161.9Z" fill="#4678FF"/>
<path d="M263.1,290.5C262.2,290.5 261.1,292.8 260.3,294.6C259.5,296.5 258.6,299.2 258.2,301.6C257.8,303.9 257.6,306.4 257.9,308.5C258.1,310.5 258.7,312.6 259.6,314.0C260.5,315.4 262.0,316.6 263.1,316.7C264.1,316.9 265.1,316.1 265.8,314.7C266.5,313.3 267.0,310.6 267.2,308.5C267.4,306.3 267.1,303.9 266.9,301.6C266.6,299.2 266.1,296.5 265.5,294.6C264.8,292.8 263.9,290.5 263.1,290.5Z" fill="#1E50FF"/>
<path d="M281.6,170.2C282.2,170.2 282.7,172.3 283.2,173.6C283.6,174.8 283.9,176.1 284.3,177.7C284.8,179.4 285.3,181.3 285.8,183.4C286.3,185.6 286.8,188.3 287.2,190.7C287.7,193.1 288.2,195.4 288.6,197.9C289.1,200.4 289.5,203.2 289.9,205.7C290.3,208.2 290.8,210.5 291.1,212.9C291.5,215.4 291.8,216.4 292.1,220.1C292.4,223.8 292.7,229.9 292.9,235.1C293.1,240.3 293.2,246.9 293.2,251.1C293.2,255.3 293.2,257.1 293.1,260.1C293.0,263.1 293.0,266.9 292.7,269.0C292.4,271.1 292.0,271.3 291.4,272.5C290.8,273.6 290.1,274.9 289.3,275.9C288.6,277.0 287.6,277.8 286.9,278.7C286.1,279.6 285.5,280.5 284.8,281.4C284.2,282.4 283.7,283.3 283.1,284.2C282.5,285.1 282.3,286.5 281.4,286.6C280.4,286.8 278.6,285.6 277.6,285.2C276.5,284.8 275.8,284.0 275.2,284.2C274.5,284.4 274.1,285.4 273.8,286.3C273.5,287.2 273.7,288.3 273.4,289.7C273.2,291.2 272.8,293.4 272.4,294.9C272.0,296.4 271.4,298.4 271.0,298.7C270.6,299.0 270.3,297.7 270.0,296.6C269.6,295.6 269.3,294.1 268.9,292.5C268.6,290.9 268.2,288.4 267.9,287.0C267.6,285.6 268.0,284.1 267.4,284.2C266.8,284.3 265.3,286.3 264.4,287.3C263.6,288.4 263.1,289.3 262.4,290.4C261.7,291.5 260.9,292.8 260.3,293.9C259.7,295.0 259.1,295.8 258.6,297.0C258.0,298.2 257.2,299.9 256.8,301.1C256.4,302.4 256.5,303.1 256.2,304.3C255.8,305.5 255.1,307.0 254.8,308.5C254.4,310.0 253.8,311.9 254.1,313.3C254.3,314.7 255.3,315.8 256.2,316.7C257.0,317.7 258.0,317.9 258.9,318.8C259.8,319.7 261.0,321.1 261.7,322.3C262.4,323.4 262.9,324.9 263.1,325.7C263.2,326.6 262.9,326.8 262.4,327.5C261.8,328.1 260.6,329.4 259.6,329.5C258.6,329.7 257.2,329.1 256.2,328.5C255.1,327.9 254.3,326.8 253.4,325.7C252.5,324.7 251.8,323.0 250.6,322.3C249.5,321.6 248.0,321.8 246.5,321.6C245.0,321.4 243.3,321.4 241.6,320.9C240.0,320.4 238.2,320.0 236.8,318.8C235.4,317.7 234.3,315.9 233.4,314.0C232.4,312.0 231.5,309.6 230.9,307.1C230.4,304.5 230.3,301.4 230.2,298.8C230.2,296.1 230.3,293.1 230.6,291.2C230.9,289.3 231.2,288.0 232.0,287.4C232.8,286.8 234.0,287.4 235.4,287.7C236.8,288.0 238.8,288.4 240.3,289.1C241.8,289.8 243.1,290.7 244.4,291.9C245.7,293.0 246.9,294.5 247.9,296.0C248.8,297.5 249.2,300.3 249.9,300.9C250.6,301.4 251.5,300.3 252.0,299.5C252.5,298.7 252.6,297.6 252.7,296.0C252.8,294.5 252.5,292.8 252.7,290.1C252.9,287.4 253.4,283.4 253.7,280.1C254.0,276.8 254.1,273.1 254.7,270.1C255.2,267.1 256.4,265.0 257.0,261.9C257.6,258.8 258.0,255.1 258.5,251.6C259.0,248.1 259.6,244.7 260.1,241.1C260.6,237.5 261.0,233.6 261.3,230.1C261.6,226.6 261.6,222.5 262.0,220.1C262.3,217.7 262.7,217.4 263.2,215.5C263.8,213.7 264.6,211.0 265.3,208.8C266.1,206.6 266.8,204.3 267.7,202.1C268.5,199.8 269.4,197.6 270.2,195.3C271.1,193.1 272.0,190.8 272.8,188.6C273.7,186.4 274.6,184.2 275.4,182.4C276.2,180.6 276.8,179.2 277.5,177.7C278.2,176.2 278.9,174.8 279.6,173.6C280.3,172.3 281.0,170.2 281.6,170.2Z" fill="#82AAFF"/>
<path d="M281.4,178.0C281.9,177.9 282.5,179.6 282.9,180.8C283.4,182.1 283.6,183.7 284.1,185.5C284.5,187.3 285.1,189.5 285.5,191.7C286.0,193.9 286.5,196.1 286.9,198.4C287.4,200.8 287.9,203.3 288.4,205.7C288.9,208.1 289.4,210.5 289.9,212.9C290.5,215.4 291.2,217.2 291.6,220.1C292.0,223.0 292.2,226.6 292.4,230.1C292.6,233.6 292.6,237.6 292.7,241.1C292.8,244.6 292.7,247.9 292.7,251.1C292.7,254.3 292.7,257.6 292.6,260.1C292.5,262.6 292.4,264.5 292.1,266.2C291.8,268.0 291.3,269.5 290.7,270.7C290.1,272.0 289.2,273.0 288.3,273.8C287.4,274.7 286.2,275.1 285.2,275.6C284.1,276.1 283.1,276.3 282.1,276.8C281.0,277.2 279.8,277.6 279.0,278.2C278.1,278.7 277.5,279.3 276.9,280.1C276.2,280.8 275.7,281.7 275.2,282.5C274.6,283.3 274.2,283.9 273.8,284.9C273.4,285.9 273.0,287.1 272.7,288.4C272.4,289.6 272.4,291.1 272.0,292.5C271.7,293.9 271.1,296.9 270.7,296.6C270.2,296.4 269.7,292.5 269.3,290.8C268.9,289.0 268.5,287.6 268.2,286.3C268.0,285.0 267.8,283.6 267.6,282.8C267.4,282.0 267.6,281.1 267.0,281.4C266.5,281.8 264.9,283.8 264.1,284.9C263.3,286.0 262.7,286.9 262.0,288.0C261.3,289.1 260.6,290.3 260.0,291.5C259.3,292.7 258.8,293.9 258.2,295.3C257.7,296.6 257.1,299.1 256.5,299.8C255.9,300.4 255.3,300.5 254.8,299.4C254.3,298.3 253.7,295.4 253.4,293.2C253.1,291.0 253.0,288.6 253.0,286.3C253.1,284.0 253.3,281.6 253.6,279.4C253.8,277.2 254.1,275.2 254.4,273.2C254.7,271.1 255.1,269.1 255.5,267.3C255.8,265.4 255.9,264.7 256.5,262.1C257.1,259.5 258.5,255.1 259.2,251.6C259.9,248.1 260.4,244.7 260.9,241.1C261.4,237.5 261.8,233.6 262.3,230.1C262.8,226.6 263.2,222.6 263.8,220.1C264.4,217.6 265.1,216.9 265.8,215.0C266.6,213.1 267.4,210.9 268.2,208.8C268.9,206.7 269.7,204.6 270.5,202.6C271.3,200.6 272.1,198.8 272.8,196.9C273.6,195.0 274.4,193.0 275.2,191.2C275.9,189.4 276.8,187.6 277.5,186.0C278.2,184.4 278.9,182.7 279.6,181.3C280.2,180.0 280.8,178.1 281.4,178.0Z" fill="#B4CDFF"/>
<path d="M238.2,293.3C237.5,293.7 236.2,294.6 235.4,296.0C234.7,297.4 234.0,299.6 233.7,301.6C233.4,303.5 233.4,305.8 233.7,307.8C234.0,309.7 234.6,311.8 235.4,313.3C236.2,314.8 237.3,315.9 238.5,316.7C239.8,317.6 241.6,318.1 243.0,318.1C244.5,318.1 246.1,317.7 247.2,316.7C248.2,315.8 248.8,314.2 249.2,312.6C249.6,311.0 249.7,308.9 249.6,307.1C249.5,305.2 249.1,303.3 248.6,301.6C248.0,299.8 247.2,298.0 246.1,296.7C245.1,295.4 243.4,294.6 242.3,294.0C241.2,293.4 240.3,293.2 239.6,293.1C238.9,293.0 238.9,292.8 238.2,293.3Z" fill="#B4CDFF"/>
<path d="M280.6,185.2C281.3,185.1 281.9,186.7 282.4,188.1C283.0,189.4 283.3,191.4 283.8,193.3C284.3,195.2 284.9,197.4 285.4,199.5C285.9,201.6 286.3,203.6 286.8,205.7C287.3,207.8 287.9,210.0 288.4,211.9C288.9,213.8 289.5,215.7 289.9,217.1C290.4,218.5 290.7,217.9 291.0,220.1C291.3,222.3 291.5,226.6 291.7,230.1C291.9,233.6 292.0,237.6 292.1,241.1C292.2,244.6 292.1,247.9 292.1,251.1C292.1,254.3 292.0,257.6 291.9,260.1C291.8,262.6 291.7,264.6 291.4,266.2C291.1,267.8 290.6,268.7 290.0,269.7C289.4,270.7 288.7,271.7 287.9,272.5C287.1,273.2 286.1,273.7 285.2,274.2C284.2,274.7 283.1,275.0 282.1,275.4C281.0,275.8 279.8,276.1 279.0,276.6C278.1,277.1 277.6,277.6 276.9,278.3C276.2,279.0 275.4,280.0 274.8,280.8C274.2,281.5 273.5,282.1 273.1,282.8C272.6,283.5 272.3,284.1 272.0,284.9C271.8,285.7 271.8,286.9 271.5,287.7C271.3,288.5 271.0,289.8 270.7,289.7C270.3,289.6 270.0,288.1 269.6,287.0C269.3,285.8 268.9,284.0 268.6,282.8C268.3,281.7 268.3,280.5 267.9,280.1C267.5,279.6 266.8,279.6 266.2,280.1C265.5,280.5 264.8,281.8 264.1,282.8C263.4,283.8 262.7,284.8 262.0,285.9C261.3,287.0 260.6,288.2 260.0,289.4C259.3,290.6 258.7,292.2 258.2,293.2C257.8,294.2 257.8,295.5 257.2,295.3C256.6,295.0 255.2,293.1 254.8,291.5C254.3,289.8 254.4,287.6 254.4,285.6C254.5,283.6 254.7,281.4 254.9,279.4C255.2,277.3 255.5,275.2 255.8,273.2C256.1,271.1 256.5,269.1 256.8,267.3C257.2,265.4 257.3,264.7 257.9,262.1C258.4,259.5 259.4,255.1 260.1,251.6C260.8,248.1 261.2,244.7 261.8,241.1C262.4,237.5 262.9,233.6 263.5,230.1C264.1,226.6 264.8,222.8 265.6,220.1C266.3,217.4 267.1,216.0 267.9,214.0C268.7,212.0 269.5,210.1 270.2,208.3C271.0,206.5 271.6,204.7 272.3,203.1C273.0,201.5 273.7,200.0 274.4,198.4C275.1,196.9 275.8,195.3 276.5,193.8C277.2,192.2 277.8,190.5 278.5,189.1C279.2,187.7 280.0,185.4 280.6,185.2Z" fill="#D7EBFF"/>
<path d="M238.9,299.1C238.2,299.8 237.3,301.5 236.8,302.9C236.3,304.4 236.0,306.2 236.1,307.8C236.2,309.4 236.8,311.5 237.5,312.6C238.2,313.8 239.2,314.3 240.3,314.7C241.3,315.0 242.7,315.1 243.7,314.7C244.7,314.2 245.7,313.2 246.1,311.9C246.6,310.6 246.6,308.6 246.5,307.1C246.4,305.6 246.0,304.1 245.4,302.9C244.9,301.7 243.8,300.5 243.0,299.8C242.2,299.1 241.3,298.9 240.6,298.8C239.9,298.7 239.5,298.4 238.9,299.1Z" fill="#D7EBFF"/>
<path d="M279.6,190.9C280.3,190.7 281.1,192.4 281.6,193.8C282.2,195.1 282.5,197.1 282.9,199.0C283.4,200.8 283.8,202.8 284.2,204.7C284.7,206.6 285.1,208.5 285.5,210.4C286.0,212.2 286.4,213.9 286.8,215.5C287.2,217.2 287.5,217.7 287.9,220.1C288.2,222.5 288.8,226.6 289.1,230.1C289.4,233.6 289.5,237.6 289.7,241.1C289.9,244.6 289.9,247.9 290.0,251.1C290.1,254.3 290.0,258.0 290.0,260.1C290.0,262.2 290.0,262.6 289.8,263.8C289.6,265.0 289.2,266.2 288.8,267.3C288.4,268.3 287.8,269.3 287.2,270.0C286.6,270.8 286.0,271.3 285.2,271.8C284.3,272.2 283.2,272.5 282.1,272.8C281.0,273.2 279.6,273.4 278.6,273.8C277.6,274.2 276.9,274.7 276.2,275.2C275.4,275.7 274.7,276.3 274.1,277.0C273.5,277.6 272.9,278.7 272.4,279.4C271.9,280.0 271.4,280.9 271.0,280.9C270.6,280.9 270.3,280.0 270.0,279.4C269.6,278.8 269.3,277.9 268.9,277.3C268.6,276.7 268.5,275.5 267.9,275.7C267.3,276.0 265.9,277.7 265.1,278.7C264.3,279.6 263.8,280.4 263.1,281.4C262.3,282.5 261.4,283.7 260.6,284.9C259.9,286.0 259.2,287.4 258.6,288.4C257.9,289.3 257.3,291.2 256.8,290.8C256.4,290.3 255.7,287.5 255.6,285.6C255.5,283.7 256.1,281.4 256.3,279.4C256.6,277.3 256.9,275.2 257.2,273.2C257.5,271.1 257.9,269.1 258.2,267.3C258.6,265.4 258.6,264.7 259.3,262.1C259.9,259.5 261.3,255.1 262.1,251.6C262.9,248.1 263.5,244.7 264.1,241.1C264.7,237.5 265.3,233.6 265.9,230.1C266.5,226.6 267.3,222.4 267.9,220.1C268.5,217.8 268.9,217.6 269.5,216.1C270.0,214.5 270.6,212.6 271.3,210.9C271.9,209.2 272.7,207.4 273.4,205.7C274.0,204.0 274.7,202.2 275.4,200.5C276.1,198.8 276.8,196.9 277.5,195.3C278.2,193.7 278.9,191.2 279.6,190.9Z" fill="#FFEBDC"/>
<path d="M278.5,199.7C279.2,199.7 280.0,201.8 280.6,203.1C281.2,204.4 281.5,206.1 281.9,207.8C282.3,209.4 282.8,210.9 283.2,212.9C283.6,215.0 283.7,217.1 284.5,220.1C285.2,223.1 287.0,227.3 287.7,230.8C288.4,234.3 288.4,237.7 288.5,241.2C288.6,244.6 288.6,248.4 288.5,251.6C288.4,254.7 288.0,258.3 288.0,260.1C287.9,261.9 288.4,261.3 288.3,262.1C288.2,262.9 287.7,264.0 287.2,264.9C286.8,265.7 286.2,266.6 285.5,267.3C284.8,268.0 284.0,268.5 283.1,269.0C282.2,269.5 281.3,270.0 280.3,270.4C279.4,270.8 278.5,271.1 277.6,271.4C276.6,271.8 275.7,272.2 274.8,272.5C273.9,272.7 272.8,272.9 272.0,272.8C271.2,272.8 270.6,272.4 270.0,272.1C269.3,271.8 269.1,270.7 268.2,270.9C267.4,271.1 266.1,272.3 265.1,273.2C264.2,274.0 263.5,275.2 262.7,275.9C262.0,276.7 261.1,277.6 260.6,277.6C260.2,277.6 259.9,276.9 259.8,275.9C259.7,274.9 259.9,273.2 260.1,271.8C260.3,270.3 260.6,268.5 261.0,267.3C261.4,266.0 262.2,265.0 262.7,264.2C263.2,263.3 263.9,263.3 264.1,262.1C264.3,260.9 263.7,258.9 263.9,256.7C264.0,254.5 264.7,251.6 265.2,249.0C265.6,246.4 265.9,244.2 266.5,241.2C267.0,238.2 267.5,235.0 268.3,230.8C269.0,226.6 270.3,219.4 271.0,216.1C271.8,212.7 272.2,212.4 272.8,210.9C273.4,209.3 274.0,207.9 274.6,206.7C275.3,205.5 275.8,204.8 276.5,203.6C277.1,202.5 277.8,199.8 278.5,199.7Z" fill="#FFCDB4"/>
<path d="M278.3,206.0C278.8,206.1 279.6,208.0 280.1,209.3C280.6,210.7 281.0,212.2 281.4,214.0C281.8,215.8 281.7,217.7 282.4,220.1C283.2,222.5 285.1,225.1 285.9,228.2C286.7,231.4 287.0,236.2 287.3,239.1C287.6,242.1 287.8,243.8 287.8,245.9C287.9,247.9 287.7,249.7 287.6,251.6C287.5,253.4 287.2,255.2 286.9,256.7C286.7,258.3 286.4,259.5 286.2,260.9C285.9,262.3 285.7,264.1 285.2,265.2C284.7,266.3 283.9,266.9 283.1,267.6C282.3,268.3 281.4,268.8 280.3,269.4C279.3,269.9 278.0,270.4 276.9,270.7C275.7,271.1 274.5,271.7 273.4,271.6C272.4,271.5 271.6,271.1 270.7,270.4C269.7,269.7 268.7,268.5 267.6,267.3C266.4,266.1 264.3,264.5 263.9,263.1C263.6,261.8 265.2,260.8 265.4,259.3C265.6,257.8 265.1,256.3 265.2,254.1C265.2,252.0 265.4,249.2 265.7,246.4C266.0,243.5 266.5,240.2 267.0,237.0C267.5,233.8 268.0,230.0 268.8,227.2C269.6,224.4 271.2,221.9 272.0,220.1C272.9,218.3 273.3,217.9 273.9,216.6C274.4,215.2 274.9,213.3 275.4,211.9C275.9,210.5 276.5,209.3 277.0,208.3C277.5,207.3 277.8,205.8 278.3,206.0Z" fill="#FFAA82"/>
<path d="M278.1,210.9C278.9,211.0 279.7,213.3 280.5,215.3C281.2,217.2 281.8,219.9 282.5,222.5C283.3,225.1 284.3,228.1 285.0,230.8C285.7,233.6 286.2,236.7 286.6,239.1C286.9,241.5 287.0,243.3 287.1,245.3C287.1,247.3 287.2,249.1 286.9,251.0C286.7,252.9 286.3,254.8 285.6,256.7C285.0,258.6 284.1,260.8 283.0,262.4C282.0,264.0 280.4,265.4 279.2,266.3C277.9,267.2 277.0,268.3 275.8,267.9C274.5,267.5 272.8,265.5 271.6,264.0C270.5,262.5 269.7,260.6 269.1,258.8C268.4,257.0 268.0,254.9 267.8,253.1C267.5,251.3 267.5,249.7 267.5,247.9C267.5,246.2 267.7,244.9 268.0,242.7C268.4,240.6 269.0,237.5 269.6,235.0C270.2,232.5 271.0,230.2 271.6,227.7C272.3,225.2 272.8,222.3 273.4,220.1C274.1,217.9 274.7,216.3 275.5,214.8C276.3,213.2 277.3,210.8 278.1,210.9Z" fill="#FF7846"/>
<path d="M278.1,215.8C278.8,216.1 279.5,217.9 280.2,219.4C280.8,221.0 281.3,223.0 282.0,225.1C282.7,227.3 283.7,230.0 284.3,232.4C285.0,234.7 285.5,237.0 285.8,239.1C286.1,241.2 286.2,242.9 286.3,244.8C286.4,246.7 286.4,248.6 286.2,250.5C285.9,252.4 285.5,254.4 284.9,256.2C284.2,258.0 283.3,260.0 282.3,261.4C281.2,262.8 279.8,264.0 278.6,264.8C277.5,265.5 276.2,266.0 275.3,265.8C274.3,265.6 273.8,264.7 272.9,263.5C272.1,262.2 271.0,260.1 270.3,258.3C269.7,256.5 269.1,254.4 268.8,252.6C268.5,250.8 268.5,249.1 268.5,247.4C268.6,245.7 268.7,244.2 269.1,242.2C269.4,240.2 270.0,237.9 270.6,235.5C271.3,233.1 272.3,230.0 272.9,227.7C273.6,225.4 274.1,223.1 274.7,221.5C275.3,219.9 275.7,218.8 276.3,217.9C276.9,216.9 277.5,215.5 278.1,215.8Z" fill="#FF501E"/>
<path d="M278.1,220.5C278.7,220.5 279.4,222.4 279.9,223.6C280.5,224.7 280.9,225.6 281.5,227.2C282.1,228.8 283.0,230.9 283.6,232.9C284.1,234.9 284.7,237.2 285.0,239.1C285.3,241.0 285.5,242.5 285.5,244.3C285.6,246.1 285.6,248.1 285.4,250.0C285.1,251.9 284.7,254.0 284.1,255.7C283.4,257.4 282.4,259.1 281.5,260.4C280.5,261.6 279.3,262.6 278.4,263.2C277.4,263.8 276.6,264.1 275.8,264.0C275.0,263.9 274.4,263.5 273.7,262.4C273.0,261.4 272.0,259.5 271.4,257.8C270.7,256.0 270.1,253.9 269.8,252.1C269.5,250.3 269.5,248.6 269.6,246.9C269.6,245.2 269.7,243.6 270.1,241.7C270.4,239.8 271.0,237.6 271.6,235.5C272.3,233.3 273.5,230.7 274.2,228.8C275.0,226.8 275.7,225.0 276.3,223.6C277.0,222.2 277.5,220.5 278.1,220.5Z" fill="#E13200"/>
<path d="M278.1,223.8C279.1,223.6 279.9,226.6 280.7,228.2C281.5,229.8 282.2,231.6 282.8,233.4C283.3,235.2 283.8,237.3 284.1,239.1C284.4,240.9 284.5,242.6 284.6,244.3C284.7,246.0 284.7,247.8 284.5,249.5C284.3,251.2 283.9,253.1 283.3,254.7C282.7,256.2 281.9,257.6 281.0,258.8C280.1,260.0 278.7,261.1 277.9,261.7C277.0,262.2 276.4,262.3 275.8,262.2C275.2,262.1 274.8,262.0 274.2,261.1C273.6,260.2 272.7,258.3 272.2,256.7C271.6,255.1 271.1,253.3 270.9,251.6C270.6,249.8 270.6,248.1 270.6,246.4C270.6,244.6 270.8,243.0 271.1,241.2C271.5,239.4 272.0,237.4 272.7,235.5C273.3,233.6 274.1,231.7 275.0,229.8C275.9,227.8 277.2,224.1 278.1,223.8Z" fill="#B82800"/>
<path d="M278.1,226.7C278.8,226.5 279.3,228.6 279.9,229.8C280.5,231.0 281.2,232.5 281.7,233.9C282.3,235.4 282.7,237.0 283.0,238.6C283.3,240.2 283.5,242.1 283.6,243.8C283.6,245.5 283.7,247.3 283.6,249.0C283.4,250.6 283.0,252.2 282.5,253.6C282.0,255.0 281.2,256.2 280.5,257.3C279.7,258.3 278.6,259.3 277.9,259.8C277.1,260.4 276.3,260.4 275.8,260.4C275.3,260.3 275.2,260.2 274.8,259.3C274.3,258.5 273.4,256.6 272.9,255.2C272.5,253.7 272.1,252.2 271.9,250.5C271.7,248.9 271.6,247.1 271.6,245.3C271.7,243.6 272.1,241.8 272.4,240.2C272.8,238.5 273.2,237.0 273.7,235.5C274.3,233.9 275.1,232.3 275.8,230.8C276.5,229.4 277.4,226.9 278.1,226.7Z" fill="#8B0000"/>
<path d="M326.2,286.2C323.6,285.8 325.0,284.6 325.2,283.6C325.3,282.7 326.4,281.3 327.2,280.5C328.1,279.7 328.1,279.2 330.3,279.0C332.6,278.7 339.0,277.8 340.7,279.0C342.4,280.2 343.1,285.0 340.7,286.2C338.3,287.4 328.8,286.6 326.2,286.2Z" fill="#0032E1"/>
<path d="M321.0,286.2 L338.8,286.2 L338.8,338.3 L310.7,338.3 L310.7,334.9 L314.3,334.9 L314.3,323.0 L317.7,323.0 L317.7,305.9 L321.0,305.9Z" fill="#fff"/>
</g>
<rect x="0" y="0" width="338.8" height="338.3" fill="none" stroke="#000" stroke-width="2.3"/>
<path d="M0.00,0v-10M0.00,338.3v10M56.47,0v-10M56.47,338.3v10M112.93,0v-10M112.93,338.3v10M169.40,0v-10M169.40,338.3v10M225.87,0v-10M225.87,338.3v10M282.33,0v-10M282.33,338.3v10M338.80,0v-10M338.80,338.3v10M0,0.00h-10M0,59.57h-10M0,101.84h-10M0,134.62h-10M0,161.41h-10M0,203.68h-10M0,236.46h-10M0,285.90h-10M0,314.42h-10M0,338.30h-10M338.8,5.50h10M338.8,97.10h10M338.8,186.70h10M338.8,267.10h10" stroke="#000" stroke-width="2" fill="none"/>
<path d="M18.82,0v-5.2M18.82,338.3v5.2M37.64,0v-5.2M37.64,338.3v5.2M75.29,0v-5.2M75.29,338.3v5.2M94.11,0v-5.2M94.11,338.3v5.2M131.76,0v-5.2M131.76,338.3v5.2M150.58,0v-5.2M150.58,338.3v5.2M188.22,0v-5.2M188.22,338.3v5.2M207.04,0v-5.2M207.04,338.3v5.2M244.69,0v-5.2M244.69,338.3v5.2M263.51,0v-5.2M263.51,338.3v5.2M301.16,0v-5.2M301.16,338.3v5.2M319.98,0v-5.2M319.98,338.3v5.2" stroke="#000" stroke-width="1.3" fill="none"/>
</g>
<text y="144.90" font-size="14.8"><tspan x="83.67 92.31 100.95">100</tspan></text>
<text y="204.47" font-size="14.8"><tspan x="83.67 92.31 100.95">150</tspan></text>
<text y="246.74" font-size="14.8"><tspan x="84.06 92.50 100.95">200</tspan></text>
<text y="279.52" font-size="14.8"><tspan x="84.06 92.50 100.95">250</tspan></text>
<text y="306.31" font-size="14.8"><tspan x="84.24 92.59 100.95">300</tspan></text>
<text y="348.58" font-size="14.8"><tspan x="84.46 92.70 100.95">400</tspan></text>
<text y="381.36" font-size="14.8"><tspan x="84.21 92.58 100.95">500</tspan></text>
<text y="430.80" font-size="14.8"><tspan x="84.04 92.49 100.95">700</tspan></text>
<text y="459.32" font-size="14.8"><tspan x="84.16 92.55 100.95">850</tspan></text>
<text y="483.20" font-size="14.8"><tspan x="75.87 84.23 92.59 100.95">1000</tspan></text>
<text y="150.70" font-size="14.8"><tspan x="480.67 488.92">16</tspan></text>
<text y="242.30" font-size="14.8"><tspan x="480.67 489.01">12</tspan></text>
<text y="331.90" font-size="14.8"><tspan x="481.12" textLength="8.65" lengthAdjust="spacingAndGlyphs">8</tspan></text>
<text y="412.30" font-size="14.8"><tspan x="481.47" textLength="8.06" lengthAdjust="spacingAndGlyphs">4</tspan></text>
<text y="506.00" font-size="14.8"><tspan x="112.26 120.56 128.87">90N</tspan></text>
<text y="506.00" font-size="14.8"><tspan x="168.67 177.00 185.34">60N</tspan></text>
<text y="506.00" font-size="14.8"><tspan x="225.32 233.56 241.80">30N</tspan></text>
<text y="506.00" font-size="14.8"><tspan x="290.86" textLength="8.38" lengthAdjust="spacingAndGlyphs">0</tspan></text>
<text y="506.00" font-size="14.8"><tspan x="338.25 346.64 355.02">30S</tspan></text>
<text y="506.00" font-size="14.8"><tspan x="394.53 403.01 411.49">60S</tspan></text>
<text y="506.00" font-size="14.8"><tspan x="451.06 459.51 467.96">90S</tspan></text>
<text y="0" font-size="21.6" transform="translate(62.80,383.90) rotate(-90)" stroke="#fff" stroke-width="0.35"><tspan x="-1.77 13.21 20.97 33.56 44.93 56.30 68.88 76.65">Pressure</tspan> <tspan x="100.66 109.92 129.97 144.05">(mb)</tspan></text>
<text y="0" font-size="21.6" transform="translate(523.40,371.20) rotate(-90)" stroke="#fff" stroke-width="0.35"><tspan x="-1.77 14.31 26.80 32.07 44.57 57.06">Height</tspan> <tspan x="76.06 85.19 97.92 117.85">(km)</tspan></text>
<text y="129.00" font-size="19.8" stroke="#fff" stroke-width="0.3"><tspan x="123.07 128.37">In</tspan><tspan x="139.73" textLength="16.23" lengthAdjust="spacingAndGlyphs">-</tspan><tspan x="155.99 170.51 175.12 186.34 197.56">Cloud</tspan> <tspan x="218.78 224.37 235.47">ice</tspan></text>
<text y="127.00" font-size="19.8" stroke="#fff" stroke-width="0.3"><tspan x="420.40" textLength="10.64" lengthAdjust="spacingAndGlyphs">g</tspan><tspan x="432.60" textLength="10.70" lengthAdjust="spacingAndGlyphs" stroke-width="1.1">/</tspan><tspan x="444.67 455.86">kg</tspan></text>
<g transform="translate(693.6,139.9)">
<clipPath id="cp2"><rect x="0" y="0" width="338.8" height="338.3"/></clipPath>
<g clip-path="url(#cp2)" shape-rendering="geometricPrecision">
<rect x="0" y="0" width="338.8" height="338.3" fill="#00008B"/>
<path d="M25.4,168.9C27.3,164.9 28.4,159.4 30.3,154.2C32.3,149.0 34.7,142.7 36.9,137.8C39.1,132.8 41.0,128.3 43.5,124.6C45.9,121.0 49.2,117.9 51.7,115.6C54.1,113.3 55.8,112.2 58.2,110.7C60.7,109.2 63.7,108.4 66.4,106.6C69.2,104.8 72.5,102.5 74.6,100.0C76.8,97.6 77.6,94.6 79.6,91.8C81.5,89.1 83.4,86.4 86.1,83.6C88.9,80.9 93.0,78.2 96.0,75.4C99.0,72.7 102.0,70.0 104.2,67.2C106.4,64.5 107.7,62.8 109.1,59.0C110.5,55.2 111.0,49.2 112.4,44.2C113.7,39.3 115.4,33.4 117.3,29.5C119.2,25.5 121.4,22.9 123.9,20.5C126.3,18.0 129.6,15.9 132.1,14.7C134.5,13.5 135.9,13.1 138.6,13.4C141.4,13.7 145.7,15.2 148.5,16.4C151.2,17.5 153.0,18.0 155.0,20.5C157.1,22.9 159.1,27.2 160.8,31.1C162.4,35.1 163.5,39.6 164.9,44.2C166.3,48.9 167.5,54.4 169.3,59.0C171.2,63.7 174.0,67.8 175.9,72.1C177.8,76.5 179.4,80.3 180.8,85.3C182.2,90.2 183.3,95.7 184.1,101.7C184.9,107.7 185.3,114.8 185.7,121.4C186.1,127.9 186.6,134.5 186.6,141.0C186.6,147.6 186.1,154.2 185.7,160.7C185.3,167.2 184.4,177.5 184.1,180.1C183.8,182.7 183.6,174.4 183.8,176.5C183.9,178.6 184.2,187.4 184.9,192.9C185.6,198.4 187.1,203.9 188.2,209.3C189.3,214.8 190.4,220.8 191.5,225.7C192.6,230.7 193.7,234.9 194.8,238.9C195.8,242.8 197.1,247.3 198.0,249.5C198.9,251.8 201.0,250.7 200.2,252.3C199.3,254.0 195.0,257.8 193.1,259.4C191.3,261.0 190.8,260.9 189.0,261.8C187.2,262.8 184.9,264.0 182.4,265.1C180.0,266.3 176.9,267.9 174.2,268.7C171.6,269.5 169.5,269.3 166.5,270.0C163.6,270.8 159.7,271.8 156.7,273.3C153.7,274.8 150.5,277.7 148.5,279.1C146.4,280.4 145.7,281.8 144.4,281.5C143.0,281.2 141.8,278.8 140.3,277.4C138.8,276.0 137.5,273.9 135.3,273.0C133.2,272.0 129.9,271.5 127.1,271.7C124.4,271.9 121.4,272.9 118.9,274.1C116.5,275.4 114.6,277.7 112.4,279.1C110.2,280.4 108.3,281.4 105.8,282.3C103.4,283.3 100.1,283.3 97.6,284.8C95.2,286.3 93.2,288.4 91.0,291.4C88.9,294.4 86.9,299.2 84.5,302.8C82.0,306.5 79.3,310.4 76.3,313.5C73.3,316.7 70.0,319.5 66.4,321.7C62.9,323.9 58.8,325.3 55.0,326.6C51.1,328.0 47.3,328.8 43.5,329.9C39.6,331.0 35.1,333.1 32.0,333.2C28.8,333.3 25.8,332.2 24.6,330.7C23.4,329.2 25.1,326.4 24.6,324.2C24.1,322.0 22.1,319.8 21.8,317.6C21.5,315.4 22.1,313.5 23.0,311.0C23.8,308.6 25.6,306.1 27.1,302.8C28.6,299.6 30.6,295.5 32.0,291.4C33.3,287.3 34.4,283.2 35.3,278.2C36.1,273.3 36.6,267.3 36.9,261.8C37.2,256.4 37.4,250.3 37.2,245.4C37.1,240.5 37.0,236.1 36.1,232.3C35.2,228.5 33.8,226.0 32.0,222.4C30.2,218.9 27.7,214.2 25.4,211.0C23.2,207.7 19.8,206.6 18.5,202.8C17.2,198.9 17.7,192.1 17.7,188.0C17.8,183.9 17.6,181.3 18.9,178.1C20.1,175.0 23.5,172.9 25.4,168.9Z" fill="#001CB8"/>
<path d="M0.3,171.6 L2.4,171.6 L4.4,184.7 L3.8,199.5 L0.3,201.1Z" fill="#001CB8"/>
<path d="M43.5,162.4C45.4,157.6 47.8,149.5 50.0,144.3C52.2,139.1 53.9,135.0 56.6,131.2C59.3,127.4 63.2,124.2 66.4,121.4C69.7,118.5 73.0,116.2 76.3,114.0C79.6,111.8 82.8,110.3 86.1,108.2C89.4,106.2 93.0,104.4 96.0,101.7C99.0,98.9 101.7,95.1 104.2,91.8C106.6,88.5 108.8,86.4 110.7,82.0C112.7,77.6 114.0,71.0 115.7,65.6C117.3,60.1 118.7,53.5 120.6,49.2C122.5,44.8 125.0,41.9 127.1,39.3C129.3,36.7 131.5,34.7 133.7,33.6C135.9,32.4 137.8,32.3 140.3,32.4C142.7,32.6 146.0,33.5 148.5,34.4C150.9,35.3 153.4,35.8 155.0,37.7C156.7,39.6 157.1,41.8 158.3,45.9C159.6,50.0 161.1,57.1 162.4,62.3C163.8,67.5 165.4,72.1 166.5,77.1C167.7,82.0 168.2,86.1 169.3,91.8C170.5,97.6 172.3,105.0 173.4,111.5C174.5,118.1 175.3,124.6 175.9,131.2C176.4,137.8 176.7,144.3 176.7,150.9C176.8,157.5 176.3,164.9 176.2,170.6C176.1,176.2 176.0,179.6 176.2,184.7C176.4,189.8 176.9,195.6 177.5,201.1C178.2,206.6 179.2,212.3 180.0,217.5C180.8,222.7 181.9,227.6 182.4,232.3C183.0,236.9 183.5,241.3 183.3,245.4C183.0,249.5 182.3,253.8 180.8,256.9C179.3,260.0 176.6,262.4 174.2,263.8C171.9,265.2 169.5,264.3 166.5,265.1C163.6,265.9 159.7,267.2 156.7,268.7C153.7,270.2 150.5,272.7 148.5,274.1C146.4,275.6 145.7,277.6 144.4,277.4C143.0,277.3 141.8,274.8 140.3,273.3C138.8,271.9 137.5,269.7 135.3,268.7C133.2,267.8 129.9,267.4 127.1,267.6C124.4,267.8 121.4,268.8 118.9,270.0C116.5,271.3 114.8,273.6 112.4,275.0C109.9,276.3 106.9,277.3 104.2,278.2C101.4,279.2 98.4,279.1 96.0,280.7C93.5,282.3 91.6,284.9 89.4,288.1C87.2,291.2 85.3,295.9 82.8,299.6C80.4,303.3 77.6,307.1 74.6,310.2C71.6,313.4 68.4,316.2 64.8,318.4C61.2,320.6 57.4,322.0 53.3,323.4C49.2,324.7 43.5,326.0 40.2,326.6C36.9,327.3 35.1,329.0 33.6,327.5C32.1,326.0 31.7,321.2 31.2,317.6C30.6,314.1 29.9,310.0 30.3,306.1C30.8,302.3 32.5,298.7 33.6,294.6C34.7,290.5 35.9,286.4 36.9,281.5C37.9,276.6 38.7,271.1 39.4,265.1C40.0,259.1 40.9,251.4 41.0,245.4C41.1,239.4 40.6,235.0 40.2,229.0C39.8,223.0 39.0,215.9 38.5,209.3C38.1,202.8 37.7,195.6 37.7,189.6C37.7,183.6 37.6,177.8 38.5,173.2C39.5,168.7 41.6,167.2 43.5,162.4Z" fill="#0032E1"/>
<path d="M61.5,162.4C63.7,158.4 65.6,155.4 68.1,152.5C70.5,149.7 73.8,146.5 76.3,145.2C78.7,143.8 80.4,144.1 82.8,144.3C85.3,144.6 88.6,146.8 91.0,146.8C93.5,146.8 95.2,146.1 97.6,144.3C100.1,142.6 103.1,139.1 105.8,136.1C108.6,133.1 111.6,129.8 114.0,126.3C116.5,122.7 118.4,118.9 120.6,114.8C122.8,110.7 125.4,106.6 127.1,101.7C128.9,96.7 129.9,90.2 131.2,85.3C132.6,80.3 133.8,75.2 135.3,72.1C136.9,69.1 138.1,67.8 140.3,66.9C142.5,65.9 146.2,66.1 148.5,66.4C150.8,66.7 152.7,66.8 154.2,68.9C155.7,70.9 156.4,74.3 157.5,78.7C158.6,83.1 159.7,89.6 160.8,95.1C161.9,100.6 163.1,105.8 164.1,111.5C165.0,117.3 165.8,123.5 166.5,129.6C167.2,135.6 167.6,141.9 168.2,147.6C168.7,153.4 169.4,158.6 169.8,164.0C170.2,169.4 170.4,176.7 170.6,180.1C170.8,183.5 170.8,181.2 171.0,184.7C171.2,188.2 171.4,195.6 171.8,201.1C172.2,206.6 173.0,212.1 173.4,217.5C173.9,223.0 174.6,228.7 174.6,233.9C174.6,239.1 174.3,244.9 173.4,248.7C172.5,252.5 170.8,255.1 169.3,256.9C167.8,258.7 166.5,258.3 164.4,259.4C162.3,260.5 159.3,261.8 156.7,263.5C154.0,265.1 150.7,267.6 148.5,269.2C146.3,270.9 145.2,273.7 143.6,273.3C141.9,272.9 140.5,268.5 138.6,266.7C136.7,265.0 134.5,263.2 132.1,262.6C129.6,262.1 126.6,262.6 123.9,263.5C121.1,264.3 118.4,266.1 115.7,267.6C112.9,269.1 110.2,271.3 107.5,272.5C104.7,273.7 102.0,273.7 99.3,275.0C96.5,276.2 93.5,277.4 91.0,279.9C88.6,282.3 86.7,286.4 84.5,289.7C82.3,293.0 80.4,296.6 77.9,299.6C75.5,302.6 72.7,305.3 69.7,307.8C66.7,310.2 63.2,312.4 59.9,314.3C56.6,316.2 53.0,318.3 50.0,319.3C47.0,320.2 43.7,321.4 41.8,320.1C39.9,318.7 39.1,314.7 38.5,311.0C38.0,307.4 38.3,302.8 38.5,297.9C38.8,293.0 39.4,287.0 40.2,281.5C41.0,276.0 42.2,270.6 43.5,265.1C44.7,259.6 46.3,254.2 47.6,248.7C48.8,243.2 49.9,238.3 50.9,232.3C51.8,226.3 52.8,219.2 53.3,212.6C53.9,206.0 53.9,198.9 54.1,192.9C54.4,186.9 53.7,181.6 55.0,176.5C56.2,171.4 59.3,166.4 61.5,162.4Z" fill="#1E50FF"/>
<path d="M68.1,197.8C68.8,194.0 68.9,191.1 70.5,189.6C72.2,188.1 75.9,189.2 77.9,188.8C80.0,188.4 80.9,187.0 82.8,187.2C84.8,187.3 87.2,189.8 89.4,189.6C91.6,189.5 94.3,188.5 96.0,186.4C97.6,184.2 97.9,179.4 99.3,176.5C100.6,173.6 102.3,171.4 104.2,168.9C106.0,166.5 108.8,162.2 110.4,161.6C112.1,160.9 112.9,164.4 114.0,164.8C115.2,165.3 116.1,163.1 117.3,164.0C118.5,165.0 120.2,168.2 121.4,170.6C122.6,172.9 124.0,174.4 124.7,178.1C125.4,181.9 124.8,187.7 125.5,192.9C126.2,198.1 127.4,204.9 128.8,209.3C130.2,213.7 132.2,217.8 133.7,219.2C135.2,220.5 136.9,220.5 137.8,217.5C138.8,214.5 139.0,208.0 139.5,201.1C139.9,194.3 140.3,182.1 140.3,176.5C140.3,170.9 140.0,171.3 139.5,167.3C138.9,163.3 137.5,157.5 137.0,152.5C136.4,147.6 136.0,142.4 136.2,137.8C136.3,133.1 137.1,129.0 137.8,124.6C138.5,120.3 139.3,115.9 140.3,111.5C141.2,107.1 141.9,101.4 143.6,98.4C145.2,95.4 148.3,93.7 150.1,93.5C151.9,93.2 153.0,94.3 154.2,96.7C155.4,99.2 156.5,103.6 157.5,108.2C158.5,112.9 159.3,119.2 160.0,124.6C160.6,130.1 161.2,135.6 161.6,141.0C162.0,146.5 162.4,152.5 162.4,157.5C162.4,162.4 161.9,167.4 161.6,170.6C161.3,173.8 160.6,172.8 160.8,176.5C160.9,180.2 161.7,186.4 162.4,192.9C163.1,199.5 164.2,209.3 164.9,215.9C165.6,222.4 166.3,226.8 166.5,232.3C166.8,237.8 167.1,244.9 166.5,248.7C166.0,252.5 164.9,253.6 163.2,255.3C161.6,256.9 159.1,257.2 156.7,258.5C154.2,259.9 150.7,262.1 148.5,263.5C146.3,264.8 145.1,267.0 143.6,266.7C142.0,266.5 141.1,263.5 139.5,261.8C137.8,260.2 136.0,257.7 133.7,256.9C131.4,256.1 128.2,256.4 125.5,256.9C122.8,257.5 120.0,258.8 117.3,260.2C114.6,261.6 112.1,263.7 109.1,265.1C106.1,266.5 102.3,267.0 99.3,268.4C96.2,269.8 93.5,271.1 91.0,273.3C88.6,275.5 86.7,278.5 84.5,281.5C82.3,284.5 80.4,288.2 77.9,291.4C75.5,294.5 72.5,297.9 69.7,300.4C67.0,302.8 64.3,304.4 61.5,306.1C58.8,307.9 55.6,309.8 53.3,311.0C51.0,312.3 49.2,314.1 47.6,313.5C45.9,313.0 44.3,310.4 43.5,307.8C42.6,305.2 42.5,301.8 42.6,297.9C42.8,294.1 43.3,289.2 44.3,284.8C45.2,280.4 46.9,276.0 48.4,271.7C49.9,267.3 51.7,262.9 53.3,258.5C55.0,254.2 56.6,250.3 58.2,245.4C59.9,240.5 61.8,234.5 63.2,229.0C64.5,223.5 65.6,217.8 66.4,212.6C67.3,207.4 67.4,201.7 68.1,197.8Z" fill="#4678FF"/>
<path d="M151.8,131.2C150.7,131.1 148.6,132.3 147.7,134.5C146.7,136.7 146.3,140.2 146.0,144.3C145.7,148.4 145.9,155.0 146.0,159.1C146.2,163.2 146.2,166.6 146.8,168.9C147.5,171.3 149.0,173.1 150.1,173.2C151.2,173.4 152.6,172.3 153.4,169.9C154.2,167.6 154.8,163.1 155.0,159.1C155.3,155.1 155.2,149.9 155.0,146.0C154.9,142.0 154.8,137.8 154.2,135.3C153.7,132.8 152.9,131.3 151.8,131.2Z" fill="#82AAFF"/>
<path d="M71.4,225.7C72.7,224.0 74.4,224.1 76.3,223.3C78.2,222.4 80.7,221.1 82.8,220.8C85.0,220.5 87.2,222.2 89.4,221.6C91.6,221.1 94.3,219.9 96.0,217.5C97.6,215.2 97.9,211.5 99.3,207.7C100.6,203.9 102.4,198.1 104.2,194.6C106.0,191.0 108.0,186.4 109.9,186.4C111.8,186.4 113.9,191.5 115.7,194.6C117.4,197.6 118.9,201.1 120.6,204.4C122.2,207.7 124.1,210.7 125.5,214.2C126.9,217.8 127.8,222.0 128.8,225.7C129.7,229.4 131.5,233.1 131.2,236.4C131.0,239.7 128.4,242.8 127.1,245.4C125.9,248.0 125.8,250.3 123.9,252.0C122.0,253.6 118.7,254.2 115.7,255.3C112.7,256.4 108.8,257.3 105.8,258.5C102.8,259.8 100.1,261.0 97.6,262.6C95.2,264.3 93.2,265.8 91.0,268.4C88.9,271.0 86.7,275.0 84.5,278.2C82.3,281.5 80.4,285.3 77.9,288.1C75.5,290.8 72.7,293.1 69.7,294.6C66.7,296.1 62.6,295.7 59.9,297.1C57.1,298.5 55.1,301.8 53.3,302.8C51.5,303.9 50.6,304.2 49.2,303.7C47.8,303.1 45.9,301.9 45.1,299.6C44.3,297.2 43.9,293.3 44.3,289.7C44.7,286.2 46.1,282.1 47.6,278.2C49.1,274.4 51.3,270.3 53.3,266.7C55.4,263.2 58.0,260.5 59.9,256.9C61.8,253.3 63.4,249.2 64.8,245.4C66.2,241.6 67.0,237.2 68.1,233.9C69.2,230.7 70.0,227.5 71.4,225.7Z" fill="#82AAFF"/>
<path d="M146.0,203.6C144.5,203.9 143.3,209.2 141.9,212.6C140.5,216.0 138.9,220.0 137.8,224.1C136.7,228.2 135.6,233.1 135.3,237.2C135.1,241.3 135.3,245.4 136.2,248.7C137.0,252.0 138.5,255.0 140.3,256.9C142.0,258.8 144.6,260.0 146.8,260.2C149.0,260.3 151.3,259.1 153.4,257.7C155.4,256.4 157.6,254.6 159.1,252.0C160.6,249.4 162.1,246.0 162.4,242.1C162.7,238.3 161.7,232.8 160.8,229.0C159.8,225.2 158.3,222.2 156.7,219.2C155.0,216.2 152.7,213.6 150.9,211.0C149.2,208.4 147.5,203.3 146.0,203.6Z" fill="#82AAFF"/>
<path d="M82.0,235.6C80.7,235.8 78.1,237.8 76.3,238.9C74.5,240.0 72.7,239.4 71.4,242.1C70.0,244.9 69.4,250.9 68.1,255.3C66.7,259.6 64.7,264.0 63.2,268.4C61.7,272.8 59.3,278.5 59.1,281.5C58.8,284.5 59.7,285.1 61.5,286.4C63.3,287.8 67.3,290.0 69.7,289.7C72.2,289.4 74.1,287.3 76.3,284.8C78.5,282.3 80.9,278.8 82.8,275.0C84.8,271.1 86.4,265.9 87.8,261.8C89.1,257.7 91.0,253.6 91.0,250.3C91.0,247.1 88.9,244.3 87.8,242.1C86.7,240.0 85.4,238.3 84.5,237.2C83.5,236.1 83.4,235.3 82.0,235.6Z" fill="#B4CDFF"/>
<path d="M110.4,205.2C109.0,206.3 107.3,212.5 105.8,215.9C104.4,219.3 103.1,222.7 101.7,225.7C100.3,228.7 98.3,230.7 97.6,233.9C96.9,237.2 96.8,242.4 97.6,245.4C98.4,248.4 100.3,250.6 102.5,252.0C104.7,253.3 108.0,253.8 110.7,253.6C113.5,253.5 116.5,252.0 118.9,251.2C121.4,250.3 124.4,250.8 125.5,248.7C126.6,246.7 126.1,242.7 125.5,238.9C125.0,235.0 123.5,229.6 122.2,225.7C121.0,221.9 119.5,218.6 118.1,215.9C116.8,213.2 115.3,211.1 114.0,209.3C112.7,207.5 111.8,204.1 110.4,205.2Z" fill="#B4CDFF"/>
<path d="M146.0,220.8C144.4,221.1 143.3,224.9 141.9,227.4C140.5,229.8 138.6,232.6 137.8,235.6C137.0,238.6 136.6,242.4 137.0,245.4C137.4,248.4 138.8,251.7 140.3,253.6C141.8,255.5 144.1,256.6 146.0,256.9C147.9,257.2 150.0,256.5 151.8,255.3C153.5,254.0 155.6,252.0 156.7,249.5C157.8,247.1 158.3,243.4 158.3,240.5C158.3,237.6 157.8,234.8 156.7,232.3C155.6,229.8 153.5,227.6 151.8,225.7C150.0,223.8 147.7,220.5 146.0,220.8Z" fill="#B4CDFF"/>
<path d="M54.1,282.0C53.4,282.0 52.2,283.9 52.2,284.8C52.2,285.7 53.4,287.3 54.1,287.3C54.8,287.3 56.3,285.7 56.3,284.8C56.3,283.9 54.8,282.0 54.1,282.0Z" fill="#B4CDFF"/>
<path d="M81.2,249.5C79.6,249.2 75.7,248.8 73.8,250.3C71.9,251.8 70.8,255.3 69.7,258.5C68.6,261.8 67.8,266.7 67.3,270.0C66.7,273.3 65.9,275.9 66.4,278.2C67.0,280.6 68.9,284.0 70.5,284.0C72.2,284.0 74.5,280.8 76.3,278.2C78.1,275.6 79.9,271.7 81.2,268.4C82.5,265.1 83.7,261.3 84.2,258.5C84.6,255.8 84.2,253.5 83.7,252.0C83.2,250.5 82.8,249.8 81.2,249.5Z" fill="#D7EBFF"/>
<path d="M110.4,218.3C109.5,218.6 108.4,224.5 107.5,227.4C106.5,230.2 104.5,233.1 104.7,235.6C104.8,238.0 107.3,240.1 108.3,242.1C109.3,244.2 109.8,248.2 110.7,247.9C111.7,247.6 113.2,242.8 114.0,240.5C114.8,238.2 115.8,236.4 115.7,233.9C115.5,231.5 114.1,228.3 113.2,225.7C112.3,223.1 111.4,218.1 110.4,218.3Z" fill="#D7EBFF"/>
<path d="M146.0,226.6C144.8,227.4 142.9,230.8 141.9,233.1C141.0,235.4 140.3,237.6 140.3,240.5C140.3,243.4 141.0,247.9 141.9,250.3C142.9,252.8 144.5,254.9 146.0,255.3C147.5,255.7 149.4,254.2 150.9,252.8C152.4,251.4 154.2,249.4 155.0,247.1C155.9,244.7 156.1,241.3 155.9,238.9C155.6,236.4 154.5,234.1 153.4,232.3C152.3,230.5 150.5,229.1 149.3,228.2C148.1,227.2 147.2,225.7 146.0,226.6Z" fill="#D7EBFF"/>
<path d="M146.0,239.7C145.6,239.7 145.0,243.6 145.0,245.4C145.0,247.3 145.6,250.7 146.0,250.7C146.4,250.7 147.3,247.3 147.3,245.4C147.3,243.6 146.4,239.7 146.0,239.7Z" fill="#FFEBDC"/>
<path d="M212.0,162.4C212.3,161.1 212.8,155.4 213.6,152.5C214.4,149.7 215.5,146.8 216.9,145.2C218.3,143.5 219.6,143.2 221.8,142.7C224.0,142.1 227.6,142.7 230.0,141.9C232.5,141.0 234.4,138.3 236.6,137.8C238.8,137.2 241.2,137.5 243.2,138.6C245.1,139.7 246.6,142.1 248.1,144.3C249.6,146.5 251.0,150.2 252.2,151.7C253.4,153.2 254.2,153.8 255.5,153.4C256.7,152.9 258.1,151.0 259.6,149.3C261.1,147.5 262.6,144.9 264.5,142.7C266.4,140.5 269.1,138.6 271.0,136.1C273.0,133.7 274.3,129.9 276.0,127.9C277.6,126.0 279.4,124.3 280.9,124.3C282.4,124.3 283.9,125.7 285.0,127.9C286.1,130.2 286.5,133.9 287.5,137.8C288.4,141.6 289.6,146.5 290.7,150.9C291.8,155.3 292.9,159.9 294.0,164.0C295.1,168.1 296.5,173.4 297.3,175.5C298.1,177.6 298.4,173.6 298.9,176.5C299.5,179.4 300.4,187.4 300.6,192.9C300.8,198.4 300.7,203.9 300.3,209.3C299.8,214.8 298.8,220.3 298.1,225.7C297.5,231.2 296.6,236.7 296.5,242.1C296.3,247.6 296.9,253.1 297.3,258.5C297.7,264.0 298.4,271.0 298.9,275.0C299.5,278.9 299.7,281.2 300.6,282.3C301.5,283.5 303.5,282.3 304.4,282.1C305.4,281.9 305.8,280.4 306.5,281.0C307.2,281.6 307.8,284.0 308.6,285.7C309.4,287.4 310.2,290.9 311.2,291.4C312.1,291.9 313.3,289.8 314.3,288.8C315.2,287.8 316.1,286.2 316.9,285.2C317.7,284.1 318.3,283.2 318.9,282.6C319.6,282.0 320.0,282.2 321.0,281.6C322.1,280.9 323.8,279.8 325.2,279.0C326.5,278.1 327.9,277.0 329.3,276.6C330.7,276.1 331.6,276.2 333.5,276.2C335.4,276.1 339.5,274.7 340.7,276.4C341.9,278.0 344.0,284.6 340.7,286.2C337.4,287.9 325.0,285.8 321.0,286.2C317.0,286.6 317.7,287.3 316.9,288.8C316.0,290.3 316.4,293.1 315.8,295.0C315.3,296.9 315.0,300.0 313.8,300.2C312.6,300.4 310.3,297.6 308.6,296.1C306.9,294.5 304.8,291.0 303.4,290.9C302.0,290.7 301.5,294.7 300.3,295.0C299.1,295.4 298.1,292.9 296.2,292.9C294.3,292.9 290.8,292.8 288.9,295.0C287.0,297.3 285.7,302.6 284.8,306.4C283.8,310.2 283.3,314.2 283.2,317.8C283.1,321.4 283.8,325.2 284.2,328.2C284.7,331.1 284.8,333.5 285.8,335.4C286.7,337.3 294.8,339.1 289.9,339.6C285.1,340.0 263.0,339.0 256.8,338.2C250.6,337.3 254.1,335.5 252.7,334.4C251.3,333.2 250.0,332.2 248.6,331.3C247.1,330.3 245.4,329.5 243.7,328.5C242.0,327.5 240.0,326.4 238.2,325.0C236.3,323.7 234.4,321.9 232.7,320.2C230.9,318.5 229.3,316.6 227.8,314.7C226.3,312.7 224.9,310.6 223.7,308.5C222.4,306.3 221.2,303.9 220.2,301.6C219.2,299.2 218.5,296.9 217.8,294.6C217.1,292.3 216.6,289.9 216.1,287.7C215.6,285.6 216.2,283.2 214.7,281.6C213.2,280.0 209.2,279.6 207.1,278.2C205.0,276.9 203.8,275.5 202.1,273.3C200.5,271.1 198.7,267.4 197.2,265.1C195.7,262.8 192.7,261.6 193.1,259.4C193.5,257.2 197.8,254.6 199.7,252.0C201.6,249.4 203.2,246.8 204.6,243.8C206.0,240.8 206.6,236.7 207.9,233.9C209.1,231.2 210.2,227.9 212.0,227.4C213.8,226.8 217.0,231.7 218.5,230.7C220.0,229.6 221.1,224.6 221.0,220.8C220.9,217.0 218.8,212.3 217.7,207.7C216.6,203.0 215.3,198.1 214.4,192.9C213.6,187.7 213.2,182.0 212.8,176.5C212.4,171.0 212.1,162.5 212.0,160.1C211.8,157.7 211.7,163.6 212.0,162.4Z" fill="#001CB8"/>
<path d="M239.9,160.1C238.2,161.2 234.8,167.4 233.3,170.8C231.8,174.1 231.4,176.4 230.9,180.1C230.3,183.8 230.2,188.0 230.0,192.9C229.8,197.8 229.8,203.9 229.7,209.3C229.6,214.8 229.6,220.3 229.2,225.7C228.9,231.2 228.3,237.8 227.6,242.1C226.9,246.5 226.6,249.2 225.1,252.0C223.6,254.7 221.0,257.2 218.5,258.5C216.1,259.9 211.8,259.1 210.3,260.2C208.8,261.3 209.0,263.5 209.5,265.1C210.1,266.7 212.4,267.8 213.6,270.0C214.9,272.2 215.9,275.0 216.9,278.2C217.9,281.5 218.5,286.2 219.4,289.7C220.2,293.3 220.7,296.4 221.8,299.6C222.9,302.7 224.3,305.9 225.9,308.6C227.6,311.3 229.6,313.6 231.7,316.0C233.7,318.3 236.0,320.5 238.2,322.5C240.4,324.6 242.6,326.5 244.8,328.3C247.0,330.1 249.3,331.3 251.4,333.2C253.4,335.1 251.8,338.7 257.1,339.8C262.4,340.9 279.4,341.8 283.4,339.8C287.3,337.7 281.4,331.4 280.9,327.5C280.3,323.5 279.9,319.5 280.1,316.0C280.2,312.4 280.8,309.1 281.7,306.1C282.7,303.1 284.3,300.4 285.8,297.9C287.3,295.5 289.1,293.5 290.7,291.4C292.4,289.2 294.7,287.5 295.7,284.8C296.6,282.1 296.6,279.3 296.5,275.0C296.3,270.6 295.3,264.0 294.8,258.5C294.4,253.1 294.2,247.6 294.0,242.1C293.9,236.7 294.2,232.6 294.0,225.7C293.9,218.9 293.6,208.7 293.2,201.1C292.8,193.5 292.1,185.2 291.6,180.1C291.0,175.0 290.5,173.8 289.9,170.6C289.4,167.4 289.0,164.6 288.3,160.7C287.6,156.9 286.8,150.8 285.8,147.6C284.9,144.5 283.6,142.8 282.5,141.9C281.4,140.9 280.6,141.2 279.3,141.9C277.9,142.6 276.0,143.6 274.3,146.0C272.7,148.3 271.0,152.3 269.4,155.8C267.8,159.4 266.0,163.3 264.5,167.3C263.0,171.3 261.5,175.8 260.4,180.1C259.3,184.4 258.7,188.0 257.9,192.9C257.1,197.8 256.1,203.9 255.5,209.3C254.9,214.8 254.6,220.3 254.3,225.7C254.0,231.2 254.0,236.7 253.8,242.1C253.6,247.6 253.4,253.6 253.0,258.5C252.6,263.5 251.9,268.9 251.4,271.7C250.8,274.4 250.1,275.8 249.7,275.0C249.3,274.1 249.1,270.9 248.9,266.7C248.7,262.6 248.4,257.2 248.4,250.3C248.4,243.5 248.9,233.9 248.9,225.7C248.9,217.5 248.8,208.7 248.4,201.1C248.0,193.5 246.9,184.9 246.4,180.1C246.0,175.3 246.2,174.9 245.6,172.2C245.1,169.5 244.1,166.0 243.2,164.0C242.2,162.0 241.5,159.0 239.9,160.1Z" fill="#0032E1"/>
<path d="M281.6,161.0C282.9,161.0 283.8,164.0 284.7,166.7C285.6,169.4 286.1,173.2 286.8,177.0C287.5,180.8 288.2,185.3 288.9,189.5C289.5,193.6 290.3,197.4 290.9,201.9C291.5,206.4 291.7,209.9 292.5,216.4C293.3,223.0 295.1,235.3 295.7,241.1C296.3,246.9 295.9,247.9 296.0,251.1C296.1,254.3 296.1,256.9 296.0,260.1C295.9,263.3 295.9,267.1 295.3,270.1C294.8,273.1 293.5,276.4 292.7,278.3C291.9,280.2 291.4,280.4 290.7,281.4C290.0,282.4 289.3,283.3 288.6,284.2C287.9,285.1 287.3,286.0 286.6,287.0C285.9,288.0 285.2,289.1 284.5,290.1C283.8,291.1 283.1,292.1 282.4,293.2C281.7,294.3 281.0,295.5 280.3,296.6C279.6,297.8 278.9,298.9 278.3,300.1C277.7,301.4 277.0,302.6 276.5,304.1C276.0,305.6 275.6,307.3 275.2,309.1C274.8,310.9 274.5,313.3 274.2,315.1C273.9,316.9 273.2,318.9 273.2,320.1C273.2,321.3 273.6,321.2 274.1,322.3C274.6,323.3 276.0,324.8 276.2,326.4C276.4,328.0 276.2,330.5 275.5,331.9C274.8,333.4 273.4,334.9 272.0,335.4C270.7,335.9 268.9,335.1 267.2,335.1C265.5,335.1 263.5,335.5 261.7,335.4C259.8,335.3 257.8,334.9 256.2,334.4C254.5,333.8 253.3,332.9 252.0,331.9C250.7,331.0 249.9,329.4 248.6,328.5C247.2,327.6 245.4,327.2 243.7,326.4C242.0,325.6 239.9,324.8 238.2,323.7C236.5,322.5 234.8,321.1 233.4,319.5C231.9,317.9 230.6,316.1 229.6,314.0C228.5,311.9 227.6,309.4 226.8,307.1C226.0,304.8 225.3,302.8 224.7,300.2C224.1,297.5 223.6,294.2 223.3,291.2C223.0,288.2 222.8,285.1 223.0,282.2C223.2,279.3 223.9,276.5 224.7,273.9C225.5,271.4 226.7,269.0 227.8,267.0C229.0,265.1 230.3,262.3 231.6,262.2C232.9,262.0 234.4,264.4 235.8,266.0C237.2,267.7 238.5,269.8 239.9,272.3C241.3,274.7 242.9,278.0 244.1,280.5C245.3,283.1 246.1,285.8 247.2,287.8C248.3,289.8 249.6,294.3 250.6,292.6C251.6,290.9 252.7,281.2 253.3,277.5C253.9,273.8 254.2,272.7 254.5,270.1C254.8,267.5 255.0,265.0 255.3,261.9C255.6,258.8 256.0,255.1 256.3,251.6C256.6,248.1 256.6,246.6 257.4,241.1C258.2,235.6 260.0,224.0 260.9,218.5C261.7,213.0 261.7,211.8 262.4,208.1C263.2,204.5 264.5,200.4 265.5,196.7C266.6,193.1 267.4,189.8 268.6,186.4C269.9,182.9 271.4,179.3 272.8,176.0C274.2,172.7 275.5,169.2 276.9,166.7C278.4,164.2 280.3,161.0 281.6,161.0Z" fill="#1E50FF"/>
<path d="M281.1,170.8C282.5,170.5 283.3,174.1 284.2,177.0C285.1,180.0 285.6,184.5 286.3,188.4C287.0,192.4 287.6,196.6 288.3,200.9C289.0,205.2 290.0,211.2 290.4,214.3C290.9,217.5 290.5,216.6 291.0,220.0C291.5,223.5 293.0,229.9 293.4,235.1C293.8,240.3 293.6,246.9 293.7,251.1C293.8,255.3 293.8,257.3 293.7,260.1C293.6,262.9 293.5,265.9 293.3,268.1C293.1,270.3 293.1,272.1 292.7,273.5C292.3,274.9 291.4,275.6 290.7,276.6C290.0,277.6 289.3,278.5 288.6,279.4C287.9,280.3 287.2,281.1 286.6,282.1C285.9,283.2 285.1,284.4 284.5,285.6C283.8,286.7 283.3,288.0 282.8,289.0C282.2,290.1 281.5,291.1 281.0,291.8C280.6,292.5 281.6,291.0 280.0,293.2C278.4,295.4 273.0,302.0 271.3,305.0C269.7,308.0 270.4,309.3 270.0,311.2C269.5,313.2 269.0,314.9 268.6,316.7C268.1,318.6 267.7,320.7 267.2,322.3C266.7,323.9 266.5,325.2 265.8,326.4C265.1,327.7 264.1,329.0 263.1,329.9C262.0,330.8 260.9,331.7 259.6,331.9C258.3,332.2 256.7,331.8 255.5,331.3C254.2,330.7 253.0,329.5 252.0,328.5C251.0,327.5 250.4,325.7 249.2,325.0C248.1,324.3 246.6,324.7 245.1,324.3C243.6,324.0 241.9,323.8 240.3,323.0C238.6,322.2 236.9,321.0 235.4,319.5C233.9,318.0 232.4,316.1 231.3,314.0C230.1,311.9 229.3,309.4 228.5,307.1C227.8,304.8 227.3,302.7 226.8,300.2C226.3,297.6 225.9,294.4 225.8,291.9C225.6,289.3 225.6,287.0 226.1,285.0C226.6,282.9 227.6,280.9 228.5,279.4C229.4,278.0 230.5,276.3 231.6,276.3C232.8,276.3 234.1,278.0 235.4,279.4C236.7,280.9 238.2,283.0 239.6,285.0C241.0,286.9 242.3,289.3 243.7,291.2C245.1,293.0 246.7,295.0 247.9,296.0C249.0,297.1 249.6,300.6 250.6,297.4C251.7,294.3 253.3,283.0 254.3,277.1C255.3,271.2 255.8,266.1 256.4,261.9C257.0,257.6 257.4,255.1 257.9,251.6C258.4,248.1 258.6,246.4 259.4,241.1C260.2,235.8 262.0,225.2 262.9,220.0C263.9,214.9 264.2,213.7 265.0,210.2C265.9,206.7 267.0,202.4 268.1,198.8C269.3,195.2 270.5,191.7 271.8,188.4C273.1,185.2 274.3,182.1 275.9,179.1C277.5,176.2 279.7,171.2 281.1,170.8Z" fill="#4678FF"/>
<path d="M263.1,290.5C262.2,290.5 261.1,292.8 260.3,294.6C259.5,296.5 258.6,299.2 258.2,301.6C257.8,303.9 257.6,306.4 257.9,308.5C258.1,310.5 258.7,312.6 259.6,314.0C260.5,315.4 262.0,316.6 263.1,316.7C264.1,316.9 265.1,316.1 265.8,314.7C266.5,313.3 267.0,310.6 267.2,308.5C267.4,306.3 267.1,303.9 266.9,301.6C266.6,299.2 266.1,296.5 265.5,294.6C264.8,292.8 263.9,290.5 263.1,290.5Z" fill="#1E50FF"/>
<path d="M280.6,179.1C281.9,178.8 282.8,181.7 283.7,184.3C284.5,186.9 285.1,190.9 285.7,194.7C286.4,198.5 287.2,202.9 287.8,207.1C288.5,211.3 288.7,215.4 289.6,220.0C290.4,224.7 292.3,229.9 292.9,235.1C293.5,240.3 293.2,246.9 293.2,251.1C293.2,255.3 293.2,257.1 293.1,260.1C293.0,263.1 293.0,266.9 292.7,269.0C292.4,271.1 292.0,271.3 291.4,272.5C290.8,273.6 290.1,274.9 289.3,275.9C288.6,277.0 287.6,277.8 286.9,278.7C286.1,279.6 285.5,280.5 284.8,281.4C284.2,282.4 283.7,283.3 283.1,284.2C282.5,285.1 282.3,286.5 281.4,286.6C280.4,286.8 278.6,285.6 277.6,285.2C276.5,284.8 275.8,284.0 275.2,284.2C274.5,284.4 274.1,285.4 273.8,286.3C273.5,287.2 273.7,288.3 273.4,289.7C273.2,291.2 272.8,293.4 272.4,294.9C272.0,296.4 271.4,298.4 271.0,298.7C270.6,299.0 270.3,297.7 270.0,296.6C269.6,295.6 269.3,294.1 268.9,292.5C268.6,290.9 268.2,288.4 267.9,287.0C267.6,285.6 268.0,284.1 267.4,284.2C266.8,284.3 265.3,286.3 264.4,287.3C263.6,288.4 263.1,289.3 262.4,290.4C261.7,291.5 260.9,292.8 260.3,293.9C259.7,295.0 259.1,295.8 258.6,297.0C258.0,298.2 257.2,299.9 256.8,301.1C256.4,302.4 256.5,303.1 256.2,304.3C255.8,305.5 255.1,307.0 254.8,308.5C254.4,310.0 253.8,311.9 254.1,313.3C254.3,314.7 255.3,315.8 256.2,316.7C257.0,317.7 258.0,317.9 258.9,318.8C259.8,319.7 261.0,321.1 261.7,322.3C262.4,323.4 262.9,324.9 263.1,325.7C263.2,326.6 262.9,326.8 262.4,327.5C261.8,328.1 260.6,329.4 259.6,329.5C258.6,329.7 257.2,329.1 256.2,328.5C255.1,327.9 254.3,326.8 253.4,325.7C252.5,324.7 251.8,323.0 250.6,322.3C249.5,321.6 248.0,321.8 246.5,321.6C245.0,321.4 243.3,321.4 241.6,320.9C240.0,320.4 238.2,320.0 236.8,318.8C235.4,317.7 234.3,315.9 233.4,314.0C232.4,312.0 231.5,309.6 230.9,307.1C230.4,304.5 230.3,301.4 230.2,298.8C230.2,296.1 230.3,293.1 230.6,291.2C230.9,289.3 231.2,288.0 232.0,287.4C232.8,286.8 234.0,287.4 235.4,287.7C236.8,288.0 238.8,288.4 240.3,289.1C241.8,289.8 243.1,290.7 244.4,291.9C245.7,293.0 246.9,294.5 247.9,296.0C248.8,297.5 249.2,300.3 249.9,300.9C250.6,301.4 251.5,300.3 252.0,299.5C252.5,298.7 252.6,297.6 252.7,296.0C252.8,294.5 252.5,292.8 252.7,290.1C252.9,287.4 253.4,283.4 253.7,280.1C254.0,276.8 254.1,273.1 254.7,270.1C255.2,267.1 256.4,265.0 257.0,261.9C257.6,258.8 258.0,255.1 258.5,251.6C259.0,248.1 258.9,246.5 260.1,241.1C261.3,235.7 264.1,225.0 265.5,219.0C267.0,213.0 267.5,209.1 268.6,205.0C269.8,201.0 271.1,197.8 272.3,194.7C273.5,191.6 274.5,189.0 275.9,186.4C277.3,183.8 279.3,179.5 280.6,179.1Z" fill="#82AAFF"/>
<path d="M280.0,185.9C281.3,185.5 282.3,188.0 283.2,190.5C284.0,193.0 284.5,197.1 285.2,200.9C285.9,204.7 286.8,210.1 287.3,213.3C287.8,216.5 287.2,215.4 288.1,220.0C289.0,224.7 291.9,235.9 292.7,241.1C293.5,246.3 292.7,247.9 292.7,251.1C292.7,254.3 292.7,257.6 292.6,260.1C292.5,262.6 292.4,264.5 292.1,266.2C291.8,268.0 291.3,269.5 290.7,270.7C290.1,272.0 289.2,273.0 288.3,273.8C287.4,274.7 286.2,275.1 285.2,275.6C284.1,276.1 283.1,276.3 282.1,276.8C281.0,277.2 279.8,277.6 279.0,278.2C278.1,278.7 277.5,279.3 276.9,280.1C276.2,280.8 275.7,281.7 275.2,282.5C274.6,283.3 274.2,283.9 273.8,284.9C273.4,285.9 273.0,287.1 272.7,288.4C272.4,289.6 272.4,291.1 272.0,292.5C271.7,293.9 271.1,296.9 270.7,296.6C270.2,296.4 269.7,292.5 269.3,290.8C268.9,289.0 268.5,287.6 268.2,286.3C268.0,285.0 267.8,283.6 267.6,282.8C267.4,282.0 267.6,281.1 267.0,281.4C266.5,281.8 264.9,283.8 264.1,284.9C263.3,286.0 262.7,286.9 262.0,288.0C261.3,289.1 260.6,290.3 260.0,291.5C259.3,292.7 258.8,293.9 258.2,295.3C257.7,296.6 257.1,299.1 256.5,299.8C255.9,300.4 255.3,300.5 254.8,299.4C254.3,298.3 253.7,295.4 253.4,293.2C253.1,291.0 253.0,288.6 253.0,286.3C253.1,284.0 253.3,281.6 253.6,279.4C253.8,277.2 254.1,275.2 254.4,273.2C254.7,271.1 255.1,269.1 255.5,267.3C255.8,265.4 255.9,264.7 256.5,262.1C257.1,259.5 258.5,255.1 259.2,251.6C259.9,248.1 259.5,246.4 260.9,241.1C262.3,235.8 265.9,224.9 267.3,220.0C268.7,215.2 268.3,215.3 269.2,212.3C270.0,209.3 271.2,205.2 272.3,201.9C273.4,198.6 274.6,195.3 275.9,192.6C277.2,189.9 278.8,186.2 280.0,185.9Z" fill="#B4CDFF"/>
<path d="M236.6,294.6C234.8,295.6 232.6,298.5 231.7,301.2C230.7,303.9 230.4,308.0 230.9,311.0C231.3,314.1 232.4,317.1 234.1,319.3C235.9,321.4 239.2,322.5 241.5,324.2C243.8,325.8 246.2,327.3 248.1,329.1C250.0,330.9 250.8,333.6 253.0,334.8C255.2,336.1 259.0,337.0 261.2,336.5C263.4,335.9 265.4,333.6 266.1,331.6C266.8,329.5 266.1,326.2 265.3,324.2C264.5,322.1 262.7,320.3 261.2,319.3C259.7,318.2 257.8,318.7 256.3,317.6C254.8,316.5 253.1,314.6 252.2,312.7C251.2,310.8 251.4,308.3 250.5,306.1C249.7,303.9 248.6,301.3 247.3,299.6C245.9,297.8 244.1,296.3 242.3,295.5C240.6,294.6 238.4,293.7 236.6,294.6Z" fill="#B4CDFF"/>
<path d="M279.0,190.0C280.1,189.8 281.7,192.0 282.6,194.7C283.6,197.3 284.0,202.1 284.7,206.1C285.4,210.0 285.6,212.7 286.8,218.5C288.0,224.3 291.2,235.7 292.1,241.1C293.0,246.5 292.1,247.9 292.1,251.1C292.1,254.3 292.0,257.6 291.9,260.1C291.8,262.6 291.7,264.6 291.4,266.2C291.1,267.8 290.6,268.7 290.0,269.7C289.4,270.7 288.7,271.7 287.9,272.5C287.1,273.2 286.1,273.7 285.2,274.2C284.2,274.7 283.1,275.0 282.1,275.4C281.0,275.8 279.8,276.1 279.0,276.6C278.1,277.1 277.6,277.6 276.9,278.3C276.2,279.0 275.4,280.0 274.8,280.8C274.2,281.5 273.5,282.1 273.1,282.8C272.6,283.5 272.3,284.1 272.0,284.9C271.8,285.7 271.8,286.9 271.5,287.7C271.3,288.5 271.0,289.8 270.7,289.7C270.3,289.6 270.0,288.1 269.6,287.0C269.3,285.8 268.9,284.0 268.6,282.8C268.3,281.7 268.3,280.5 267.9,280.1C267.5,279.6 266.8,279.6 266.2,280.1C265.5,280.5 264.8,281.8 264.1,282.8C263.4,283.8 262.7,284.8 262.0,285.9C261.3,287.0 260.6,288.2 260.0,289.4C259.3,290.6 258.7,292.2 258.2,293.2C257.8,294.2 257.8,295.5 257.2,295.3C256.6,295.0 255.2,293.1 254.8,291.5C254.3,289.8 254.4,287.6 254.4,285.6C254.5,283.6 254.7,281.4 254.9,279.4C255.2,277.3 255.5,275.2 255.8,273.2C256.1,271.1 256.5,269.1 256.8,267.3C257.2,265.4 257.3,264.7 257.9,262.1C258.4,259.5 259.4,255.1 260.1,251.6C260.8,248.1 260.2,246.8 261.8,241.1C263.4,235.4 267.6,223.5 269.5,217.5C271.3,211.4 271.7,208.6 272.8,205.0C273.9,201.4 274.9,198.2 275.9,195.7C276.9,193.2 277.9,190.2 279.0,190.0Z" fill="#D7EBFF"/>
<path d="M239.1,297.9C237.7,298.5 235.8,300.9 235.0,302.8C234.1,304.8 233.9,307.2 234.1,309.4C234.4,311.6 235.4,314.2 236.6,316.0C237.8,317.7 239.9,319.8 241.5,320.1C243.2,320.3 245.3,319.1 246.4,317.6C247.5,316.1 248.1,313.2 248.1,311.0C248.1,308.9 247.3,306.4 246.4,304.5C245.6,302.6 244.4,300.7 243.2,299.6C241.9,298.5 240.4,297.4 239.1,297.9Z" fill="#D7EBFF"/>
<path d="M256.3,320.9C254.8,321.2 253.3,324.0 253.0,325.8C252.7,327.6 253.5,330.3 254.6,331.6C255.7,332.8 258.2,333.6 259.6,333.2C260.9,332.8 262.4,330.6 262.8,329.1C263.3,327.6 263.1,325.5 262.0,324.2C260.9,322.8 257.8,320.6 256.3,320.9Z" fill="#D7EBFF"/>
<path d="M239.9,304.2C239.1,304.4 238.5,308.1 238.7,309.4C239.0,310.7 240.7,312.5 241.5,312.2C242.3,311.9 243.8,309.1 243.5,307.8C243.2,306.4 240.7,303.9 239.9,304.2Z" fill="#FFEBDC"/>
<path d="M278.5,194.7C279.6,194.3 280.7,197.1 281.6,199.8C282.5,202.6 283.1,207.8 283.7,211.2C284.3,214.7 284.2,215.6 285.2,220.6C286.2,225.5 288.9,236.0 289.7,241.1C290.5,246.2 289.9,247.9 290.0,251.1C290.1,254.3 290.0,258.0 290.0,260.1C290.0,262.2 290.0,262.6 289.8,263.8C289.6,265.0 289.2,266.2 288.8,267.3C288.4,268.3 287.8,269.3 287.2,270.0C286.6,270.8 286.0,271.3 285.2,271.8C284.3,272.2 283.2,272.5 282.1,272.8C281.0,273.2 279.6,273.4 278.6,273.8C277.6,274.2 276.9,274.7 276.2,275.2C275.4,275.7 274.7,276.3 274.1,277.0C273.5,277.6 272.9,278.7 272.4,279.4C271.9,280.0 271.4,280.9 271.0,280.9C270.6,280.9 270.3,280.0 270.0,279.4C269.6,278.8 269.3,277.9 268.9,277.3C268.6,276.7 268.5,275.5 267.9,275.7C267.3,276.0 265.9,277.7 265.1,278.7C264.3,279.6 263.8,280.4 263.1,281.4C262.3,282.5 261.4,283.7 260.6,284.9C259.9,286.0 259.2,287.4 258.6,288.4C257.9,289.3 257.3,291.2 256.8,290.8C256.4,290.3 255.7,287.5 255.6,285.6C255.5,283.7 256.1,281.4 256.3,279.4C256.6,277.3 256.9,275.2 257.2,273.2C257.5,271.1 257.9,269.1 258.2,267.3C258.6,265.4 258.6,264.7 259.3,262.1C259.9,259.5 261.3,255.1 262.1,251.6C262.9,248.1 262.8,246.4 264.1,241.1C265.4,235.8 268.7,224.9 270.0,220.0C271.3,215.2 270.9,215.3 271.8,212.3C272.6,209.3 273.7,204.8 274.9,201.9C276.0,199.0 277.4,195.0 278.5,194.7Z" fill="#FFEBDC"/>
<path d="M278.5,199.7C279.2,199.7 280.0,201.8 280.6,203.1C281.2,204.4 281.5,206.1 281.9,207.8C282.3,209.4 282.8,210.9 283.2,212.9C283.6,215.0 283.7,217.1 284.5,220.1C285.2,223.1 287.0,227.3 287.7,230.8C288.4,234.3 288.4,237.7 288.5,241.2C288.6,244.6 288.6,248.4 288.5,251.6C288.4,254.7 288.0,258.3 288.0,260.1C287.9,261.9 288.4,261.3 288.3,262.1C288.2,262.9 287.7,264.0 287.2,264.9C286.8,265.7 286.2,266.6 285.5,267.3C284.8,268.0 284.0,268.5 283.1,269.0C282.2,269.5 281.3,270.0 280.3,270.4C279.4,270.8 278.5,271.1 277.6,271.4C276.6,271.8 275.7,272.2 274.8,272.5C273.9,272.7 272.8,272.9 272.0,272.8C271.2,272.8 270.6,272.4 270.0,272.1C269.3,271.8 269.1,270.7 268.2,270.9C267.4,271.1 266.1,272.3 265.1,273.2C264.2,274.0 263.5,275.2 262.7,275.9C262.0,276.7 261.1,277.6 260.6,277.6C260.2,277.6 259.9,276.9 259.8,275.9C259.7,274.9 259.9,273.2 260.1,271.8C260.3,270.3 260.6,268.5 261.0,267.3C261.4,266.0 262.2,265.0 262.7,264.2C263.2,263.3 263.9,263.3 264.1,262.1C264.3,260.9 263.7,258.9 263.9,256.7C264.0,254.5 264.7,251.6 265.2,249.0C265.6,246.4 265.9,244.2 266.5,241.2C267.0,238.2 267.5,235.0 268.3,230.8C269.0,226.6 270.3,219.4 271.0,216.1C271.8,212.7 272.2,212.4 272.8,210.9C273.4,209.3 274.0,207.9 274.6,206.7C275.3,205.5 275.8,204.8 276.5,203.6C277.1,202.5 277.8,199.8 278.5,199.7Z" fill="#FFCDB4"/>
<path d="M278.3,206.0C278.8,206.1 279.6,208.0 280.1,209.3C280.6,210.7 281.0,212.2 281.4,214.0C281.8,215.8 281.7,217.7 282.4,220.1C283.2,222.5 285.1,225.1 285.9,228.2C286.7,231.4 287.0,236.2 287.3,239.1C287.6,242.1 287.8,243.8 287.8,245.9C287.9,247.9 287.7,249.7 287.6,251.6C287.5,253.4 287.2,255.2 286.9,256.7C286.7,258.3 286.4,259.5 286.2,260.9C285.9,262.3 285.7,264.1 285.2,265.2C284.7,266.3 283.9,266.9 283.1,267.6C282.3,268.3 281.4,268.8 280.3,269.4C279.3,269.9 278.0,270.4 276.9,270.7C275.7,271.1 274.5,271.7 273.4,271.6C272.4,271.5 271.6,271.1 270.7,270.4C269.7,269.7 268.7,268.5 267.6,267.3C266.4,266.1 264.3,264.5 263.9,263.1C263.6,261.8 265.2,260.8 265.4,259.3C265.6,257.8 265.1,256.3 265.2,254.1C265.2,252.0 265.4,249.2 265.7,246.4C266.0,243.5 266.5,240.2 267.0,237.0C267.5,233.8 268.0,230.0 268.8,227.2C269.6,224.4 271.2,221.9 272.0,220.1C272.9,218.3 273.3,217.9 273.9,216.6C274.4,215.2 274.9,213.3 275.4,211.9C275.9,210.5 276.5,209.3 277.0,208.3C277.5,207.3 277.8,205.8 278.3,206.0Z" fill="#FFAA82"/>
<path d="M278.1,210.9C278.9,211.0 279.7,213.3 280.5,215.3C281.2,217.2 281.8,219.9 282.5,222.5C283.3,225.1 284.3,228.1 285.0,230.8C285.7,233.6 286.2,236.7 286.6,239.1C286.9,241.5 287.0,243.3 287.1,245.3C287.1,247.3 287.2,249.1 286.9,251.0C286.7,252.9 286.3,254.8 285.6,256.7C285.0,258.6 284.1,260.8 283.0,262.4C282.0,264.0 280.4,265.4 279.2,266.3C277.9,267.2 277.0,268.3 275.8,267.9C274.5,267.5 272.8,265.5 271.6,264.0C270.5,262.5 269.7,260.6 269.1,258.8C268.4,257.0 268.0,254.9 267.8,253.1C267.5,251.3 267.5,249.7 267.5,247.9C267.5,246.2 267.7,244.9 268.0,242.7C268.4,240.6 269.0,237.5 269.6,235.0C270.2,232.5 271.0,230.2 271.6,227.7C272.3,225.2 272.8,222.3 273.4,220.1C274.1,217.9 274.7,216.3 275.5,214.8C276.3,213.2 277.3,210.8 278.1,210.9Z" fill="#FF7846"/>
<path d="M278.1,215.8C278.8,216.1 279.5,217.9 280.2,219.4C280.8,221.0 281.3,223.0 282.0,225.1C282.7,227.3 283.7,230.0 284.3,232.4C285.0,234.7 285.5,237.0 285.8,239.1C286.1,241.2 286.2,242.9 286.3,244.8C286.4,246.7 286.4,248.6 286.2,250.5C285.9,252.4 285.5,254.4 284.9,256.2C284.2,258.0 283.3,260.0 282.3,261.4C281.2,262.8 279.8,264.0 278.6,264.8C277.5,265.5 276.2,266.0 275.3,265.8C274.3,265.6 273.8,264.7 272.9,263.5C272.1,262.2 271.0,260.1 270.3,258.3C269.7,256.5 269.1,254.4 268.8,252.6C268.5,250.8 268.5,249.1 268.5,247.4C268.6,245.7 268.7,244.2 269.1,242.2C269.4,240.2 270.0,237.9 270.6,235.5C271.3,233.1 272.3,230.0 272.9,227.7C273.6,225.4 274.1,223.1 274.7,221.5C275.3,219.9 275.7,218.8 276.3,217.9C276.9,216.9 277.5,215.5 278.1,215.8Z" fill="#FF501E"/>
<path d="M278.1,220.5C278.7,220.5 279.4,222.4 279.9,223.6C280.5,224.7 280.9,225.6 281.5,227.2C282.1,228.8 283.0,230.9 283.6,232.9C284.1,234.9 284.7,237.2 285.0,239.1C285.3,241.0 285.5,242.5 285.5,244.3C285.6,246.1 285.6,248.1 285.4,250.0C285.1,251.9 284.7,254.0 284.1,255.7C283.4,257.4 282.4,259.1 281.5,260.4C280.5,261.6 279.3,262.6 278.4,263.2C277.4,263.8 276.6,264.1 275.8,264.0C275.0,263.9 274.4,263.5 273.7,262.4C273.0,261.4 272.0,259.5 271.4,257.8C270.7,256.0 270.1,253.9 269.8,252.1C269.5,250.3 269.5,248.6 269.6,246.9C269.6,245.2 269.7,243.6 270.1,241.7C270.4,239.8 271.0,237.6 271.6,235.5C272.3,233.3 273.5,230.7 274.2,228.8C275.0,226.8 275.7,225.0 276.3,223.6C277.0,222.2 277.5,220.5 278.1,220.5Z" fill="#E13200"/>
<path d="M278.1,223.8C279.1,223.6 279.9,226.6 280.7,228.2C281.5,229.8 282.2,231.6 282.8,233.4C283.3,235.2 283.8,237.3 284.1,239.1C284.4,240.9 284.5,242.6 284.6,244.3C284.7,246.0 284.7,247.8 284.5,249.5C284.3,251.2 283.9,253.1 283.3,254.7C282.7,256.2 281.9,257.6 281.0,258.8C280.1,260.0 278.7,261.1 277.9,261.7C277.0,262.2 276.4,262.3 275.8,262.2C275.2,262.1 274.8,262.0 274.2,261.1C273.6,260.2 272.7,258.3 272.2,256.7C271.6,255.1 271.1,253.3 270.9,251.6C270.6,249.8 270.6,248.1 270.6,246.4C270.6,244.6 270.8,243.0 271.1,241.2C271.5,239.4 272.0,237.4 272.7,235.5C273.3,233.6 274.1,231.7 275.0,229.8C275.9,227.8 277.2,224.1 278.1,223.8Z" fill="#B82800"/>
<path d="M278.1,226.7C278.8,226.5 279.3,228.6 279.9,229.8C280.5,231.0 281.2,232.5 281.7,233.9C282.3,235.4 282.7,237.0 283.0,238.6C283.3,240.2 283.5,242.1 283.6,243.8C283.6,245.5 283.7,247.3 283.6,249.0C283.4,250.6 283.0,252.2 282.5,253.6C282.0,255.0 281.2,256.2 280.5,257.3C279.7,258.3 278.6,259.3 277.9,259.8C277.1,260.4 276.3,260.4 275.8,260.4C275.3,260.3 275.2,260.2 274.8,259.3C274.3,258.5 273.4,256.6 272.9,255.2C272.5,253.7 272.1,252.2 271.9,250.5C271.7,248.9 271.6,247.1 271.6,245.3C271.7,243.6 272.1,241.8 272.4,240.2C272.8,238.5 273.2,237.0 273.7,235.5C274.3,233.9 275.1,232.3 275.8,230.8C276.5,229.4 277.4,226.9 278.1,226.7Z" fill="#8B0000"/>
<path d="M326.2,286.2C323.6,285.8 325.0,284.6 325.2,283.6C325.3,282.7 326.4,281.3 327.2,280.5C328.1,279.7 328.1,279.2 330.3,279.0C332.6,278.7 339.0,277.8 340.7,279.0C342.4,280.2 343.1,285.0 340.7,286.2C338.3,287.4 328.8,286.6 326.2,286.2Z" fill="#0032E1"/>
<path d="M321.0,286.2 L338.8,286.2 L338.8,338.3 L310.7,338.3 L310.7,334.9 L314.3,334.9 L314.3,323.0 L317.7,323.0 L317.7,305.9 L321.0,305.9Z" fill="#fff"/>
</g>
<rect x="0" y="0" width="338.8" height="338.3" fill="none" stroke="#000" stroke-width="2.3"/>
<path d="M0.00,0v-10M0.00,338.3v10M56.47,0v-10M56.47,338.3v10M112.93,0v-10M112.93,338.3v10M169.40,0v-10M169.40,338.3v10M225.87,0v-10M225.87,338.3v10M282.33,0v-10M282.33,338.3v10M338.80,0v-10M338.80,338.3v10M0,0.00h-10M0,59.57h-10M0,101.84h-10M0,134.62h-10M0,161.41h-10M0,203.68h-10M0,236.46h-10M0,285.90h-10M0,314.42h-10M0,338.30h-10M338.8,5.50h10M338.8,97.10h10M338.8,186.70h10M338.8,267.10h10" stroke="#000" stroke-width="2" fill="none"/>
<path d="M18.82,0v-5.2M18.82,338.3v5.2M37.64,0v-5.2M37.64,338.3v5.2M75.29,0v-5.2M75.29,338.3v5.2M94.11,0v-5.2M94.11,338.3v5.2M131.76,0v-5.2M131.76,338.3v5.2M150.58,0v-5.2M150.58,338.3v5.2M188.22,0v-5.2M188.22,338.3v5.2M207.04,0v-5.2M207.04,338.3v5.2M244.69,0v-5.2M244.69,338.3v5.2M263.51,0v-5.2M263.51,338.3v5.2M301.16,0v-5.2M301.16,338.3v5.2M319.98,0v-5.2M319.98,338.3v5.2" stroke="#000" stroke-width="1.3" fill="none"/>
</g>
<text y="144.90" font-size="14.8"><tspan x="651.97 660.61 669.25">100</tspan></text>
<text y="204.47" font-size="14.8"><tspan x="651.97 660.61 669.25">150</tspan></text>
<text y="246.74" font-size="14.8"><tspan x="652.36 660.80 669.25">200</tspan></text>
<text y="279.52" font-size="14.8"><tspan x="652.36 660.80 669.25">250</tspan></text>
<text y="306.31" font-size="14.8"><tspan x="652.54 660.89 669.25">300</tspan></text>
<text y="348.58" font-size="14.8"><tspan x="652.76 661.00 669.25">400</tspan></text>
<text y="381.36" font-size="14.8"><tspan x="652.51 660.88 669.25">500</tspan></text>
<text y="430.80" font-size="14.8"><tspan x="652.34 660.79 669.25">700</tspan></text>
<text y="459.32" font-size="14.8"><tspan x="652.46 660.85 669.25">850</tspan></text>
<text y="483.20" font-size="14.8"><tspan x="644.17 652.53 660.89 669.25">1000</tspan></text>
<text y="150.70" font-size="14.8"><tspan x="1048.97 1057.22">16</tspan></text>
<text y="242.30" font-size="14.8"><tspan x="1048.97 1057.31">12</tspan></text>
<text y="331.90" font-size="14.8"><tspan x="1049.42" textLength="8.65" lengthAdjust="spacingAndGlyphs">8</tspan></text>
<text y="412.30" font-size="14.8"><tspan x="1049.77" textLength="8.06" lengthAdjust="spacingAndGlyphs">4</tspan></text>
<text y="506.00" font-size="14.8"><tspan x="680.56 688.86 697.17">90N</tspan></text>
<text y="506.00" font-size="14.8"><tspan x="736.97 745.30 753.64">60N</tspan></text>
<text y="506.00" font-size="14.8"><tspan x="793.62 801.86 810.10">30N</tspan></text>
<text y="506.00" font-size="14.8"><tspan x="859.16" textLength="8.38" lengthAdjust="spacingAndGlyphs">0</tspan></text>
<text y="506.00" font-size="14.8"><tspan x="906.55 914.94 923.32">30S</tspan></text>
<text y="506.00" font-size="14.8"><tspan x="962.83 971.31 979.79">60S</tspan></text>
<text y="506.00" font-size="14.8"><tspan x="1019.36 1027.81 1036.26">90S</tspan></text>
<text y="0" font-size="21.6" transform="translate(631.10,383.90) rotate(-90)" stroke="#fff" stroke-width="0.35"><tspan x="-1.77 13.21 20.97 33.56 44.93 56.30 68.88 76.65">Pressure</tspan> <tspan x="100.66 109.92 129.97 144.05">(mb)</tspan></text>
<text y="0" font-size="21.6" transform="translate(1091.70,371.20) rotate(-90)" stroke="#fff" stroke-width="0.35"><tspan x="-1.77 14.31 26.80 32.07 44.57 57.06">Height</tspan> <tspan x="76.06 85.19 97.92 117.85">(km)</tspan></text>
<text y="129.00" font-size="19.8" stroke="#fff" stroke-width="0.3"><tspan x="691.37 696.67">In</tspan><tspan x="708.03" textLength="16.23" lengthAdjust="spacingAndGlyphs">-</tspan><tspan x="724.29 738.81 743.42 754.64 765.86">Cloud</tspan> <tspan x="787.08 792.67 803.77">ice</tspan></text>
<text y="127.00" font-size="19.8" stroke="#fff" stroke-width="0.3"><tspan x="988.70" textLength="10.64" lengthAdjust="spacingAndGlyphs">g</tspan><tspan x="1000.90" textLength="10.70" lengthAdjust="spacingAndGlyphs" stroke-width="1.1">/</tspan><tspan x="1012.97 1024.16">kg</tspan></text>
<g transform="translate(410.0,680.6)">
<clipPath id="cp3"><rect x="0" y="0" width="338.8" height="338.3"/></clipPath>
<g clip-path="url(#cp3)" shape-rendering="geometricPrecision">
<rect x="0" y="0" width="338.8" height="338.3" fill="#FFEBDC"/>
<path d="M20.8,-0.8 L42.5,-0.8 L42.8,59.1 L31.0,61.3 L20.4,59.1Z" fill="#D7EBFF"/>
<path d="M78.1,-0.8 L90.4,-0.8 L88.4,6.6 L85.2,5.0 L84.3,30.4 L82.7,60.0 L75.3,59.1 L77.0,30.4Z" fill="#D7EBFF"/>
<path d="M146.7,23.4C144.2,23.4 141.6,24.9 139.3,27.1C137.0,29.4 134.9,33.2 132.7,37.0C130.6,40.8 128.2,46.6 126.2,50.1C124.1,53.7 121.7,54.8 120.4,58.3C119.2,61.9 119.5,67.1 118.8,71.4C118.1,75.8 117.2,79.4 116.3,84.6C115.5,89.8 114.0,96.9 113.9,102.6C113.7,108.4 115.1,113.8 115.5,119.0C115.9,124.2 115.5,129.1 116.3,133.8C117.2,138.4 119.1,144.7 120.4,146.9C121.8,149.1 123.0,147.7 124.5,146.9C126.0,146.1 128.2,142.3 129.5,142.0C130.7,141.7 131.1,142.5 131.9,145.3C132.7,148.0 133.3,154.3 134.4,158.4C135.5,162.5 137.4,167.2 138.5,169.9C139.6,172.5 139.4,172.9 140.9,174.3C142.5,175.7 145.6,177.1 147.5,178.4C149.4,179.8 150.8,182.4 152.4,182.5C154.1,182.7 155.9,180.9 157.4,179.2C158.9,177.6 160.6,174.5 161.5,172.7C162.3,170.8 161.5,171.4 162.3,168.2C163.1,165.0 165.2,158.7 166.4,153.5C167.6,148.3 168.8,142.5 169.7,137.1C170.5,131.6 170.8,126.4 171.3,120.7C171.9,114.9 172.9,107.5 172.9,102.6C172.9,97.7 172.1,95.5 171.3,91.1C170.5,86.8 169.3,81.8 168.0,76.4C166.8,70.9 165.4,64.3 163.9,58.3C162.4,52.3 160.6,45.5 159.0,40.3C157.4,35.1 156.1,30.0 154.1,27.1C152.0,24.3 149.2,23.4 146.7,23.4Z" fill="#FFCDB4"/>
<path d="M147.5,46.8C145.6,47.2 142.7,49.6 140.9,51.7C139.2,53.9 137.9,56.1 136.8,60.0C135.8,63.8 135.1,68.7 134.4,74.7C133.7,80.7 132.7,89.8 132.7,96.0C132.7,102.3 133.6,106.7 134.4,112.5C135.2,118.2 136.6,124.8 137.7,130.5C138.8,136.2 139.9,142.0 140.9,146.9C142.0,151.8 142.3,156.6 144.2,160.0C146.1,163.5 150.2,167.1 152.4,167.4C154.6,167.7 156.0,165.1 157.4,161.7C158.7,158.3 159.7,152.4 160.6,146.9C161.6,141.4 162.6,136.0 163.1,128.9C163.6,121.8 164.2,111.1 163.9,104.3C163.6,97.4 162.3,93.3 161.5,87.8C160.6,82.4 159.8,76.4 159.0,71.4C158.2,66.5 157.6,62.0 156.5,58.3C155.4,54.6 153.9,51.2 152.4,49.3C150.9,47.4 149.4,46.4 147.5,46.8Z" fill="#FFAA82"/>
<path d="M149.2,101.8 L153.3,100.2 L152.9,105.1Z" fill="#FF7846"/>
<path d="M63.8,139.5C62.7,139.0 60.7,143.8 58.9,146.9C57.1,150.1 54.5,154.6 53.2,158.4C51.8,162.2 51.7,168.0 50.7,169.9C49.8,171.7 48.8,167.3 47.4,169.4C46.1,171.5 43.9,177.3 42.5,182.5C41.1,187.7 39.2,195.0 39.2,200.6C39.2,206.2 41.3,215.2 42.5,216.2C43.7,217.1 45.1,208.4 46.6,206.3C48.1,204.3 49.9,203.9 51.5,203.9C53.2,203.9 54.9,206.6 56.5,206.3C58.0,206.0 59.5,205.6 60.6,202.2C61.6,198.8 62.2,191.3 63.0,185.8C63.8,180.3 64.8,173.4 65.5,169.4C66.1,165.4 66.8,164.9 66.8,161.7C66.8,158.5 66.0,153.9 65.5,150.2C65.0,146.5 64.9,140.1 63.8,139.5Z" fill="#FFCDB4"/>
<path d="M211.0,161.7C211.0,157.7 212.5,149.6 213.5,145.3C214.4,140.9 215.5,137.9 216.8,135.4C218.0,133.0 219.1,131.3 220.9,130.5C222.6,129.7 225.5,131.1 227.4,130.8C229.3,130.6 230.4,129.7 232.3,128.9C234.3,128.0 236.7,126.5 238.9,125.9C241.1,125.4 243.6,125.2 245.5,125.6C247.4,125.9 248.9,126.7 250.4,128.0C251.9,129.4 253.4,130.9 254.5,133.8C255.6,136.7 256.1,141.4 257.0,145.3C257.8,149.1 258.9,152.7 259.4,156.8C260.0,160.9 260.2,164.2 260.2,169.9C260.2,175.5 260.0,184.0 259.4,190.7C258.9,197.5 257.9,204.7 257.0,210.4C256.0,216.2 255.0,221.5 253.7,225.2C252.3,228.9 250.7,231.2 248.8,232.6C246.8,233.9 244.4,233.8 242.2,233.4C240.0,233.0 237.8,232.6 235.6,230.1C233.4,227.6 231.0,223.3 229.1,218.6C227.2,214.0 226.1,207.7 224.1,202.2C222.2,196.7 219.4,191.3 217.6,185.8C215.8,180.3 214.6,173.4 213.5,169.4C212.4,165.4 211.0,165.7 211.0,161.7Z" fill="#FFCDB4"/>
<path d="M230.7,179.4C231.1,176.2 231.5,167.4 232.3,163.3C233.2,159.3 234.3,157.0 235.6,155.1C237.0,153.2 239.0,152.1 240.6,151.8C242.1,151.6 243.3,152.0 244.7,153.5C246.0,155.0 247.9,156.5 248.8,160.9C249.6,165.2 249.6,175.2 249.6,179.4C249.6,183.6 249.4,182.3 248.8,185.8C248.1,189.3 247.1,196.6 245.5,200.6C243.8,204.5 240.6,208.4 238.9,209.6C237.3,210.8 236.7,210.0 235.6,208.0C234.5,205.9 233.3,201.5 232.3,197.3C231.4,193.1 230.2,185.5 229.9,182.5C229.6,179.5 230.3,182.6 230.7,179.4Z" fill="#FFAA82"/>
<path d="M270.1,179.4C270.5,175.9 270.8,166.5 271.7,161.7C272.7,156.8 274.2,153.2 275.8,150.2C277.4,147.2 279.9,143.1 281.2,143.6C282.6,144.2 282.9,149.9 284.0,153.5C285.2,157.0 286.8,163.6 288.1,165.0C289.5,166.3 290.9,163.2 292.2,161.7C293.6,160.2 295.1,157.1 296.3,155.9C297.6,154.8 298.4,154.2 299.6,154.8C300.9,155.3 302.6,156.7 303.7,159.2C304.8,161.7 305.6,166.5 306.2,169.9C306.7,173.2 306.7,177.3 307.0,179.4C307.3,181.5 307.8,178.7 307.8,182.5C307.8,186.3 307.6,195.7 307.0,202.2C306.5,208.8 305.8,217.5 304.5,221.9C303.3,226.3 301.3,226.6 299.6,228.5C298.0,230.4 295.9,229.6 294.7,233.4C293.5,237.2 292.5,245.1 292.2,251.4C292.0,257.7 293.2,266.9 293.1,271.1C292.9,275.4 292.2,278.5 291.4,276.9C290.6,275.2 288.3,265.8 288.1,261.3C288.0,256.8 290.9,254.3 290.6,249.8C290.3,245.3 288.0,236.9 286.5,234.2C285.0,231.5 283.2,237.6 281.6,233.4C279.9,229.2 278.2,215.3 276.6,208.8C275.1,202.2 273.8,198.4 272.5,194.0C271.3,189.6 269.7,185.0 269.3,182.5C268.9,180.1 269.7,182.9 270.1,179.4Z" fill="#FFCDB4"/>
<path d="M279.1,179.4C279.7,176.9 280.6,169.1 281.2,169.1C281.9,169.1 282.3,175.2 282.9,179.4C283.5,183.6 284.7,189.4 284.9,194.0C285.0,198.6 284.6,202.8 284.0,207.1C283.5,211.5 282.4,221.6 281.6,220.3C280.8,218.9 279.8,204.9 279.1,198.9C278.4,192.9 277.5,187.4 277.5,184.2C277.5,180.9 278.5,181.9 279.1,179.4Z" fill="#FFAA82"/>
<path d="M11.3,338.4 L13.0,326.9 L16.3,317.1 L17.1,305.6 L21.2,294.1 L25.3,286.7 L32.7,280.2 L38.4,273.6 L42.5,283.4 L44.1,267.8 L46.6,258.0 L50.7,252.3 L53.2,254.7 L55.6,264.6 L60.6,267.4 L63.8,261.3 L66.3,238.3 L70.4,225.2 L74.5,235.0 L81.9,236.7 L88.4,224.4 L92.5,234.2 L96.6,218.6 L98.3,194.0 L99.9,177.6 L104.0,165.0 L109.8,164.6 L113.9,169.4 L117.2,185.8 L119.6,202.2 L121.3,218.6 L124.5,236.7 L129.5,221.9 L131.9,220.3 L135.2,230.1 L139.3,221.9 L141.8,203.9 L146.7,198.9 L152.4,206.3 L157.4,202.2 L162.3,199.8 L167.2,190.7 L172.1,177.6 L176.6,170.2 L182.3,179.2 L185.6,192.4 L189.7,205.5 L193.0,223.5 L196.3,243.2 L198.7,264.6 L198.7,284.3 L197.1,295.7 L170.0,295.7 L163.1,295.7 L160.6,305.6 L140.9,305.6 L137.7,307.2 L134.4,296.6 L131.1,305.6 L126.2,312.1 L122.9,305.6 L121.3,294.9 L111.4,292.5 L106.5,287.5 L101.6,294.1 L99.1,313.8 L96.6,319.5 L92.5,317.1 L88.4,322.8 L78.6,338.4Z" fill="#D7EBFF"/>
<path d="M1.5,338.4 L4.8,329.4 L10.5,338.4Z" fill="#D7EBFF"/>
<path d="M136.0,305.6 L145.1,305.6 L145.1,317.1 L140.9,322.0 L136.0,317.1Z" fill="#D7EBFF"/>
<path d="M137.7,328.6 L142.6,323.6 L145.9,328.6 L142.6,334.3Z" fill="#D7EBFF"/>
<path d="M153.3,305.6 L163.1,305.6 L163.1,326.9 L160.6,329.4 L157.4,322.0 L153.3,317.1Z" fill="#D7EBFF"/>
<path d="M106.5,314.6 L114.7,314.6 L111.4,318.7Z" fill="#D7EBFF"/>
<path d="M111.4,318.7 L119.6,318.7 L121.3,323.6 L117.2,326.9Z" fill="#D7EBFF"/>
<path d="M173.8,305.6 L177.9,305.6 L175.4,313.8Z" fill="#D7EBFF"/>
<path d="M173.3,305.6 L177.9,305.6 L174.9,313.8Z" fill="#D7EBFF"/>
<path d="M188.9,317.1 L191.3,307.2 L194.6,314.6 L199.5,317.9 L199.5,295.7 L209.4,305.6 L210.2,317.9 L202.8,319.5 L199.5,321.2 L193.0,321.2Z" fill="#D7EBFF"/>
<path d="M181.5,328.6 L184.8,324.5 L188.0,329.4 L184.8,333.5Z" fill="#D7EBFF"/>
<path d="M209.9,331.8 L213.5,327.7 L217.3,332.2 L213.5,335.9Z" fill="#D7EBFF"/>
<path d="M199.5,295.7 L202.0,276.0 L203.6,254.7 L205.3,238.3 L207.7,229.3 L211.0,226.8 L215.9,231.7 L222.5,241.6 L229.1,251.4 L235.6,258.8 L242.2,264.6 L249.6,273.6 L253.7,266.2 L258.6,251.4 L262.7,235.0 L265.2,223.5 L267.1,217.8 L269.8,225.2 L272.1,218.6 L274.2,215.3 L276.6,223.5 L279.1,235.0 L281.6,249.8 L278.3,258.0 L275.0,262.9 L272.5,274.4 L275.0,284.3 L284.9,272.8 L287.3,284.3 L284.9,299.0 L283.2,310.5 L291.4,312.1 L293.1,320.3 L290.6,331.8 L283.2,333.5 L279.9,338.4 L235.6,338.4 L224.1,323.6 L211.0,318.7 L209.4,305.6Z" fill="#D7EBFF"/>
<path d="M266.8,248.2C266.1,249.3 265.0,254.7 264.3,258.0C263.7,261.3 262.6,264.3 262.7,267.8C262.8,271.4 264.2,278.2 265.2,279.3C266.1,280.4 267.8,277.4 268.4,274.4C269.1,271.4 269.3,265.1 269.3,261.3C269.3,257.5 268.9,253.6 268.4,251.4C268.0,249.3 267.5,247.1 266.8,248.2Z" fill="#FFEBDC"/>
<path d="M309.5,281.0 L317.7,282.6 L327.5,278.5 L334.9,277.7 L339.0,281.0 L339.0,286.2 L321.8,286.2 L321.8,305.6 L317.7,305.9 L317.7,323.6 L314.4,324.5 L314.4,338.4 L296.3,338.4 L298.0,333.5 L301.3,328.6 L309.5,326.9 L314.4,313.8 L316.8,303.9 L320.1,294.1 L318.5,287.5 L312.7,290.8 L308.6,289.2Z" fill="#D7EBFF"/>
<path d="M298.0,303.9 L299.6,303.9 L299.3,312.1Z" fill="#D7EBFF"/>
<path d="M49.1,293.3C48.2,294.1 47.4,298.3 46.6,300.7C45.8,303.0 45.5,306.0 44.1,307.2C42.8,308.5 40.0,307.1 38.4,308.0C36.8,309.0 35.0,310.5 34.3,313.0C33.6,315.4 33.2,321.0 34.0,322.8C34.8,324.6 37.1,323.5 39.2,323.6C41.3,323.8 43.9,324.5 46.6,323.6C49.3,322.8 54.7,320.6 55.6,318.7C56.6,316.8 53.2,314.6 52.3,312.1C51.5,309.7 50.8,306.7 50.7,303.9C50.6,301.2 51.8,297.5 51.5,295.7C51.3,294.0 49.9,292.5 49.1,293.3Z" fill="#B4CDFF"/>
<path d="M70.7,246.5C69.6,247.9 68.9,256.4 67.9,261.3C66.9,266.2 65.8,271.9 64.7,276.0C63.5,280.2 60.7,283.4 60.9,285.9C61.0,288.4 63.8,289.4 65.5,290.8C67.2,292.2 69.0,293.6 71.2,294.1C73.4,294.6 76.7,295.7 78.6,294.1C80.5,292.5 81.5,287.8 82.7,284.3C83.9,280.7 85.6,276.6 86.0,272.8C86.4,268.9 86.3,263.7 85.2,261.3C84.1,258.8 81.2,259.4 79.4,258.0C77.6,256.6 75.9,255.0 74.5,253.1C73.0,251.2 71.8,245.1 70.7,246.5Z" fill="#B4CDFF"/>
<path d="M110.6,207.1C109.8,208.0 109.4,220.0 108.1,223.5C106.9,227.1 104.3,226.0 103.2,228.5C102.1,230.9 101.9,234.5 101.6,238.3C101.2,242.1 100.6,248.3 101.2,251.4C101.9,254.6 104.1,255.7 105.7,257.2C107.2,258.7 108.8,260.3 110.6,260.5C112.4,260.6 114.7,259.8 116.3,258.0C118.0,256.2 119.9,253.6 120.4,249.8C121.0,246.0 120.3,239.1 119.6,235.0C118.9,230.9 117.4,227.9 116.3,225.2C115.2,222.5 114.0,221.6 113.1,218.6C112.1,215.6 111.4,206.3 110.6,207.1Z" fill="#B4CDFF"/>
<path d="M145.9,228.5C144.8,229.8 143.5,236.4 142.6,240.0C141.6,243.5 140.5,246.2 140.1,249.8C139.7,253.4 139.7,257.7 140.1,261.3C140.5,264.8 141.6,268.5 142.6,271.1C143.5,273.7 144.6,276.3 145.9,276.9C147.1,277.4 148.7,276.5 150.0,274.4C151.2,272.4 152.6,268.4 153.3,264.6C153.9,260.7 154.3,255.5 154.1,251.4C153.8,247.3 152.4,243.2 151.6,240.0C150.8,236.7 150.1,233.7 149.2,231.7C148.2,229.8 147.0,227.1 145.9,228.5Z" fill="#B4CDFF"/>
<path d="M70.9,266.2C70.5,266.2 70.0,271.8 70.1,274.4C70.1,277.0 70.8,281.8 71.2,281.8C71.6,281.8 72.4,277.0 72.4,274.4C72.3,271.8 71.3,266.2 70.9,266.2Z" fill="#82AAFF"/>
<path d="M110.6,235.0C110.4,235.0 110.1,240.6 110.1,243.2C110.1,245.8 110.5,250.6 110.8,250.6C111.0,250.6 111.4,245.8 111.4,243.2C111.4,240.6 110.8,235.0 110.6,235.0Z" fill="#82AAFF"/>
<path d="M235.6,297.4 L232.3,305.6 L233.2,313.8 L238.9,317.1 L243.8,322.0 L248.8,329.4 L255.3,335.1 L261.9,337.1 L268.4,334.3 L266.8,323.6 L268.4,312.1 L269.3,300.7 L267.6,294.1 L263.5,297.4 L259.4,291.6 L257.0,282.6 L254.5,279.3 L251.2,287.5 L248.8,294.1 L242.2,299.0 L238.9,302.3Z" fill="#B4CDFF"/>
<path d="M253.7,290.0C252.9,291.4 252.3,295.9 251.2,299.0C250.1,302.2 248.3,305.9 247.1,308.9C245.9,311.9 243.8,314.6 243.8,317.1C243.8,319.5 245.5,321.3 247.1,323.6C248.8,326.0 251.5,329.1 253.7,331.0C255.9,332.9 258.3,335.0 260.2,335.1C262.2,335.3 264.6,333.7 265.2,331.8C265.7,329.9 264.2,326.4 263.5,323.6C262.8,320.9 261.9,318.4 261.1,315.4C260.2,312.4 259.3,308.9 258.6,305.6C257.9,302.3 257.4,298.2 257.0,295.7C256.6,293.3 256.7,291.8 256.1,290.8C255.6,289.9 254.5,288.6 253.7,290.0Z" fill="#82AAFF"/>
<path d="M257.0,321.2C255.8,321.7 253.9,323.6 253.4,325.3C252.8,326.9 252.8,329.4 253.7,331.0C254.6,332.7 257.1,335.1 258.6,335.1C260.1,335.1 261.9,332.5 262.7,331.0C263.5,329.5 263.6,327.6 263.2,326.1C262.8,324.6 261.3,322.8 260.2,322.0C259.2,321.2 258.1,320.6 257.0,321.2Z" fill="#4678FF"/>
<path d="M257.8,323.6C256.7,323.8 255.3,325.5 255.0,326.9C254.6,328.3 254.9,330.6 255.6,331.8C256.4,333.1 258.4,334.6 259.4,334.3C260.5,334.0 261.5,331.6 261.9,330.2C262.2,328.8 262.2,327.2 261.6,326.1C260.9,325.0 258.9,323.5 257.8,323.6Z" fill="#1E50FF"/>
<path d="M274.2,230.1C273.6,230.9 272.8,236.4 272.5,240.0C272.3,243.5 272.1,248.8 272.5,251.4C273.0,254.0 274.3,256.1 275.0,255.5C275.7,255.0 276.5,251.6 276.6,248.2C276.8,244.7 276.2,238.0 275.8,235.0C275.4,232.0 274.7,229.3 274.2,230.1Z" fill="#B4CDFF"/>
<path d="M321.0,286.2 L338.8,286.2 L338.8,338.3 L310.7,338.3 L310.7,334.9 L314.3,334.9 L314.3,323.0 L317.7,323.0 L317.7,305.9 L321.0,305.9Z" fill="#fff"/>
</g>
<rect x="0" y="0" width="338.8" height="338.3" fill="none" stroke="#000" stroke-width="2.3"/>
<path d="M0.00,0v-10M0.00,338.3v10M56.47,0v-10M56.47,338.3v10M112.93,0v-10M112.93,338.3v10M169.40,0v-10M169.40,338.3v10M225.87,0v-10M225.87,338.3v10M282.33,0v-10M282.33,338.3v10M338.80,0v-10M338.80,338.3v10M0,0.00h-10M0,59.57h-10M0,101.84h-10M0,134.62h-10M0,161.41h-10M0,203.68h-10M0,236.46h-10M0,285.90h-10M0,314.42h-10M0,338.30h-10M338.8,5.50h10M338.8,97.10h10M338.8,186.70h10M338.8,267.10h10" stroke="#000" stroke-width="2" fill="none"/>
<path d="M18.82,0v-5.2M18.82,338.3v5.2M37.64,0v-5.2M37.64,338.3v5.2M75.29,0v-5.2M75.29,338.3v5.2M94.11,0v-5.2M94.11,338.3v5.2M131.76,0v-5.2M131.76,338.3v5.2M150.58,0v-5.2M150.58,338.3v5.2M188.22,0v-5.2M188.22,338.3v5.2M207.04,0v-5.2M207.04,338.3v5.2M244.69,0v-5.2M244.69,338.3v5.2M263.51,0v-5.2M263.51,338.3v5.2M301.16,0v-5.2M301.16,338.3v5.2M319.98,0v-5.2M319.98,338.3v5.2" stroke="#000" stroke-width="1.3" fill="none"/>
</g>
<text y="685.60" font-size="14.8"><tspan x="368.37 377.01 385.65">100</tspan></text>
<text y="745.17" font-size="14.8"><tspan x="368.37 377.01 385.65">150</tspan></text>
<text y="787.44" font-size="14.8"><tspan x="368.76 377.20 385.65">200</tspan></text>
<text y="820.22" font-size="14.8"><tspan x="368.76 377.20 385.65">250</tspan></text>
<text y="847.01" font-size="14.8"><tspan x="368.94 377.29 385.65">300</tspan></text>
<text y="889.28" font-size="14.8"><tspan x="369.16 377.40 385.65">400</tspan></text>
<text y="922.06" font-size="14.8"><tspan x="368.91 377.28 385.65">500</tspan></text>
<text y="971.50" font-size="14.8"><tspan x="368.74 377.19 385.65">700</tspan></text>
<text y="1000.02" font-size="14.8"><tspan x="368.86 377.25 385.65">850</tspan></text>
<text y="1023.90" font-size="14.8"><tspan x="360.57 368.93 377.29 385.65">1000</tspan></text>
<text y="691.40" font-size="14.8"><tspan x="765.37 773.62">16</tspan></text>
<text y="783.00" font-size="14.8"><tspan x="765.37 773.71">12</tspan></text>
<text y="872.60" font-size="14.8"><tspan x="765.82" textLength="8.65" lengthAdjust="spacingAndGlyphs">8</tspan></text>
<text y="953.00" font-size="14.8"><tspan x="766.17" textLength="8.06" lengthAdjust="spacingAndGlyphs">4</tspan></text>
<text y="1046.70" font-size="14.8"><tspan x="396.96 405.26 413.57">90N</tspan></text>
<text y="1046.70" font-size="14.8"><tspan x="453.37 461.70 470.04">60N</tspan></text>
<text y="1046.70" font-size="14.8"><tspan x="510.02 518.26 526.50">30N</tspan></text>
<text y="1046.70" font-size="14.8"><tspan x="575.56" textLength="8.38" lengthAdjust="spacingAndGlyphs">0</tspan></text>
<text y="1046.70" font-size="14.8"><tspan x="622.95 631.34 639.72">30S</tspan></text>
<text y="1046.70" font-size="14.8"><tspan x="679.23 687.71 696.19">60S</tspan></text>
<text y="1046.70" font-size="14.8"><tspan x="735.76 744.21 752.66">90S</tspan></text>
<text y="0" font-size="21.6" transform="translate(347.50,924.60) rotate(-90)" stroke="#fff" stroke-width="0.35"><tspan x="-1.77 13.21 20.97 33.56 44.93 56.30 68.88 76.65">Pressure</tspan> <tspan x="100.66 109.92 129.97 144.05">(mb)</tspan></text>
<text y="0" font-size="21.6" transform="translate(808.10,911.90) rotate(-90)" stroke="#fff" stroke-width="0.35"><tspan x="-1.77 14.31 26.80 32.07 44.57 57.06">Height</tspan> <tspan x="76.06 85.19 97.92 117.85">(km)</tspan></text>
<text y="669.70" font-size="19.8" stroke="#fff" stroke-width="0.3"><tspan x="407.77 413.07">In</tspan><tspan x="424.43" textLength="16.23" lengthAdjust="spacingAndGlyphs">-</tspan><tspan x="440.69 455.21 459.82 471.04 482.26">Cloud</tspan> <tspan x="503.48 509.07 520.17">ice</tspan></text>
<text y="667.70" font-size="19.8" stroke="#fff" stroke-width="0.3"><tspan x="705.10" textLength="10.64" lengthAdjust="spacingAndGlyphs">g</tspan><tspan x="717.30" textLength="10.70" lengthAdjust="spacingAndGlyphs" stroke-width="1.1">/</tspan><tspan x="729.37 740.56">kg</tspan></text>
<rect x="130.10" y="539.5" width="20.56" height="30.4" fill="#00008B" stroke="#000" stroke-width="1.2"/>
<rect x="150.66" y="539.5" width="20.56" height="30.4" fill="#001CB8" stroke="#000" stroke-width="1.2"/>
<rect x="171.22" y="539.5" width="20.56" height="30.4" fill="#0032E1" stroke="#000" stroke-width="1.2"/>
<rect x="191.78" y="539.5" width="20.56" height="30.4" fill="#1E50FF" stroke="#000" stroke-width="1.2"/>
<rect x="212.34" y="539.5" width="20.56" height="30.4" fill="#4678FF" stroke="#000" stroke-width="1.2"/>
<rect x="232.90" y="539.5" width="20.56" height="30.4" fill="#82AAFF" stroke="#000" stroke-width="1.2"/>
<rect x="253.46" y="539.5" width="20.56" height="30.4" fill="#B4CDFF" stroke="#000" stroke-width="1.2"/>
<rect x="274.02" y="539.5" width="20.56" height="30.4" fill="#D7EBFF" stroke="#000" stroke-width="1.2"/>
<rect x="294.58" y="539.5" width="20.56" height="30.4" fill="#FFEBDC" stroke="#000" stroke-width="1.2"/>
<rect x="315.14" y="539.5" width="20.56" height="30.4" fill="#FFCDB4" stroke="#000" stroke-width="1.2"/>
<rect x="335.70" y="539.5" width="20.56" height="30.4" fill="#FFAA82" stroke="#000" stroke-width="1.2"/>
<rect x="356.26" y="539.5" width="20.56" height="30.4" fill="#FF7846" stroke="#000" stroke-width="1.2"/>
<rect x="376.82" y="539.5" width="20.56" height="30.4" fill="#FF501E" stroke="#000" stroke-width="1.2"/>
<rect x="397.38" y="539.5" width="20.56" height="30.4" fill="#E13200" stroke="#000" stroke-width="1.2"/>
<rect x="417.94" y="539.5" width="20.56" height="30.4" fill="#B82800" stroke="#000" stroke-width="1.2"/>
<rect x="438.50" y="539.5" width="20.56" height="30.4" fill="#8B0000" stroke="#000" stroke-width="1.2"/>
<text y="589.40" font-size="15.0"><tspan x="130.37 139.81 145.07 154.51 163.95">0.001</tspan></text>
<text y="589.40" font-size="15.0"><tspan x="212.61 222.03 227.27 236.69 246.11">0.008</tspan></text>
<text y="589.40" font-size="15.0"><tspan x="299.00 308.83 314.48 324.30">0.02</tspan></text>
<text y="589.40" font-size="15.0"><tspan x="381.24 390.96 396.51 406.23">0.04</tspan></text>
<text y="523.50" font-size="16.8"><tspan x="168.70" textLength="28.99" lengthAdjust="spacingAndGlyphs">MIN</tspan> <tspan x="206.90" textLength="13.10" lengthAdjust="spacingAndGlyphs">=</tspan> <tspan x="246.64 257.39 263.46 274.21">0.00</tspan> <tspan x="300.54" textLength="33.28" lengthAdjust="spacingAndGlyphs">MAX</tspan> <tspan x="344.04" textLength="12.62" lengthAdjust="spacingAndGlyphs">=</tspan> <tspan x="382.64 393.72 400.12 411.20">0.07</tspan></text>
<rect x="698.40" y="539.5" width="20.56" height="30.4" fill="#00008B" stroke="#000" stroke-width="1.2"/>
<rect x="718.96" y="539.5" width="20.56" height="30.4" fill="#001CB8" stroke="#000" stroke-width="1.2"/>
<rect x="739.52" y="539.5" width="20.56" height="30.4" fill="#0032E1" stroke="#000" stroke-width="1.2"/>
<rect x="760.08" y="539.5" width="20.56" height="30.4" fill="#1E50FF" stroke="#000" stroke-width="1.2"/>
<rect x="780.64" y="539.5" width="20.56" height="30.4" fill="#4678FF" stroke="#000" stroke-width="1.2"/>
<rect x="801.20" y="539.5" width="20.56" height="30.4" fill="#82AAFF" stroke="#000" stroke-width="1.2"/>
<rect x="821.76" y="539.5" width="20.56" height="30.4" fill="#B4CDFF" stroke="#000" stroke-width="1.2"/>
<rect x="842.32" y="539.5" width="20.56" height="30.4" fill="#D7EBFF" stroke="#000" stroke-width="1.2"/>
<rect x="862.88" y="539.5" width="20.56" height="30.4" fill="#FFEBDC" stroke="#000" stroke-width="1.2"/>
<rect x="883.44" y="539.5" width="20.56" height="30.4" fill="#FFCDB4" stroke="#000" stroke-width="1.2"/>
<rect x="904.00" y="539.5" width="20.56" height="30.4" fill="#FFAA82" stroke="#000" stroke-width="1.2"/>
<rect x="924.56" y="539.5" width="20.56" height="30.4" fill="#FF7846" stroke="#000" stroke-width="1.2"/>
<rect x="945.12" y="539.5" width="20.56" height="30.4" fill="#FF501E" stroke="#000" stroke-width="1.2"/>
<rect x="965.68" y="539.5" width="20.56" height="30.4" fill="#E13200" stroke="#000" stroke-width="1.2"/>
<rect x="986.24" y="539.5" width="20.56" height="30.4" fill="#B82800" stroke="#000" stroke-width="1.2"/>
<rect x="1006.80" y="539.5" width="20.56" height="30.4" fill="#8B0000" stroke="#000" stroke-width="1.2"/>
<text y="589.40" font-size="15.0"><tspan x="698.67 708.11 713.37 722.81 732.25">0.001</tspan></text>
<text y="589.40" font-size="15.0"><tspan x="780.91 790.33 795.57 804.99 814.41">0.008</tspan></text>
<text y="589.40" font-size="15.0"><tspan x="867.30 877.13 882.78 892.60">0.02</tspan></text>
<text y="589.40" font-size="15.0"><tspan x="949.54 959.26 964.81 974.53">0.04</tspan></text>
<text y="523.50" font-size="16.8"><tspan x="737.00" textLength="28.99" lengthAdjust="spacingAndGlyphs">MIN</tspan> <tspan x="775.20" textLength="13.10" lengthAdjust="spacingAndGlyphs">=</tspan> <tspan x="814.94 825.69 831.76 842.51">0.00</tspan> <tspan x="868.84" textLength="33.28" lengthAdjust="spacingAndGlyphs">MAX</tspan> <tspan x="912.34" textLength="12.62" lengthAdjust="spacingAndGlyphs">=</tspan> <tspan x="950.94 962.02 968.42 979.50">0.07</tspan></text>
<rect x="867.4" y="743.40" width="45.8" height="16.99" fill="#8B0000" stroke="#000" stroke-width="1.2"/>
<rect x="867.4" y="760.39" width="45.8" height="16.99" fill="#B82800" stroke="#000" stroke-width="1.2"/>
<rect x="867.4" y="777.38" width="45.8" height="16.99" fill="#E13200" stroke="#000" stroke-width="1.2"/>
<rect x="867.4" y="794.37" width="45.8" height="16.99" fill="#FF501E" stroke="#000" stroke-width="1.2"/>
<rect x="867.4" y="811.36" width="45.8" height="16.99" fill="#FF7846" stroke="#000" stroke-width="1.2"/>
<rect x="867.4" y="828.35" width="45.8" height="16.99" fill="#FFAA82" stroke="#000" stroke-width="1.2"/>
<rect x="867.4" y="845.34" width="45.8" height="16.99" fill="#FFCDB4" stroke="#000" stroke-width="1.2"/>
<rect x="867.4" y="862.33" width="45.8" height="16.99" fill="#FFEBDC" stroke="#000" stroke-width="1.2"/>
<rect x="867.4" y="879.32" width="45.8" height="16.99" fill="#D7EBFF" stroke="#000" stroke-width="1.2"/>
<rect x="867.4" y="896.31" width="45.8" height="16.99" fill="#B4CDFF" stroke="#000" stroke-width="1.2"/>
<rect x="867.4" y="913.30" width="45.8" height="16.99" fill="#82AAFF" stroke="#000" stroke-width="1.2"/>
<rect x="867.4" y="930.29" width="45.8" height="16.99" fill="#4678FF" stroke="#000" stroke-width="1.2"/>
<rect x="867.4" y="947.28" width="45.8" height="16.99" fill="#1E50FF" stroke="#000" stroke-width="1.2"/>
<rect x="867.4" y="964.27" width="45.8" height="16.99" fill="#0032E1" stroke="#000" stroke-width="1.2"/>
<rect x="867.4" y="981.26" width="45.8" height="16.99" fill="#001CB8" stroke="#000" stroke-width="1.2"/>
<rect x="867.4" y="998.25" width="45.8" height="16.99" fill="#00008B" stroke="#000" stroke-width="1.2"/>
<text y="765.69" font-size="14.6"><tspan x="929.03 938.91 944.73 954.61">0.02</tspan></text>
<text y="782.68" font-size="14.6"><tspan x="924.08 933.94 939.73 949.59 959.44">0.015</tspan></text>
<text y="799.67" font-size="14.6"><tspan x="929.03 938.91 944.72 954.59">0.01</tspan></text>
<text y="816.66" font-size="14.6"><tspan x="924.08 933.94 939.73 949.59 959.44">0.005</tspan></text>
<text y="833.65" font-size="14.6"><tspan x="924.08 933.89 939.64 949.45 959.26">0.004</tspan></text>
<text y="850.64" font-size="14.6"><tspan x="924.08 933.97 939.79 949.68 959.56">0.002</tspan></text>
<text y="867.63" font-size="14.6"><tspan x="924.08 933.96 939.78 949.66 959.54">0.001</tspan></text>
<text y="884.62" font-size="14.6"><tspan x="941.61" textLength="8.38" lengthAdjust="spacingAndGlyphs">0</tspan></text>
<text y="901.61" font-size="14.6"><tspan x="916.99" textLength="12.82" lengthAdjust="spacingAndGlyphs">-</tspan><tspan x="930.03 939.86 945.63 955.46 965.29">0.001</tspan></text>
<text y="918.60" font-size="14.6"><tspan x="916.99" textLength="12.82" lengthAdjust="spacingAndGlyphs">-</tspan><tspan x="930.03 939.87 945.64 955.48 965.31">0.002</tspan></text>
<text y="935.59" font-size="14.6"><tspan x="916.99" textLength="12.82" lengthAdjust="spacingAndGlyphs">-</tspan><tspan x="930.03 939.79 945.49 955.25 965.01">0.004</tspan></text>
<text y="952.58" font-size="14.6"><tspan x="916.99" textLength="12.82" lengthAdjust="spacingAndGlyphs">-</tspan><tspan x="930.03 939.84 945.58 955.39 965.19">0.005</tspan></text>
<text y="969.57" font-size="14.6"><tspan x="922.19" textLength="12.82" lengthAdjust="spacingAndGlyphs">-</tspan><tspan x="935.23 944.87 950.45 960.09">0.01</tspan></text>
<text y="986.56" font-size="14.6"><tspan x="916.99" textLength="12.82" lengthAdjust="spacingAndGlyphs">-</tspan><tspan x="930.03 939.84 945.58 955.39 965.19">0.015</tspan></text>
<text y="1003.55" font-size="14.6"><tspan x="922.19" textLength="12.82" lengthAdjust="spacingAndGlyphs">-</tspan><tspan x="935.23 944.88 950.47 960.11">0.02</tspan></text>
<text y="714.80" font-size="16.8"><tspan x="790.65" textLength="30.19" lengthAdjust="spacingAndGlyphs">MIN</tspan> <tspan x="829.44" textLength="12.62" lengthAdjust="spacingAndGlyphs">=</tspan> <tspan x="859.48" textLength="15.14" lengthAdjust="spacingAndGlyphs">-</tspan><tspan x="874.54 884.45 889.67 899.58">0.01</tspan> <tspan x="928.38" textLength="32.23" lengthAdjust="spacingAndGlyphs">MAX</tspan> <tspan x="971.14" textLength="12.62" lengthAdjust="spacingAndGlyphs">=</tspan> <tspan x="1010.04 1021.13 1027.53 1038.61">0.00</tspan></text>
</svg>
</body></html>
